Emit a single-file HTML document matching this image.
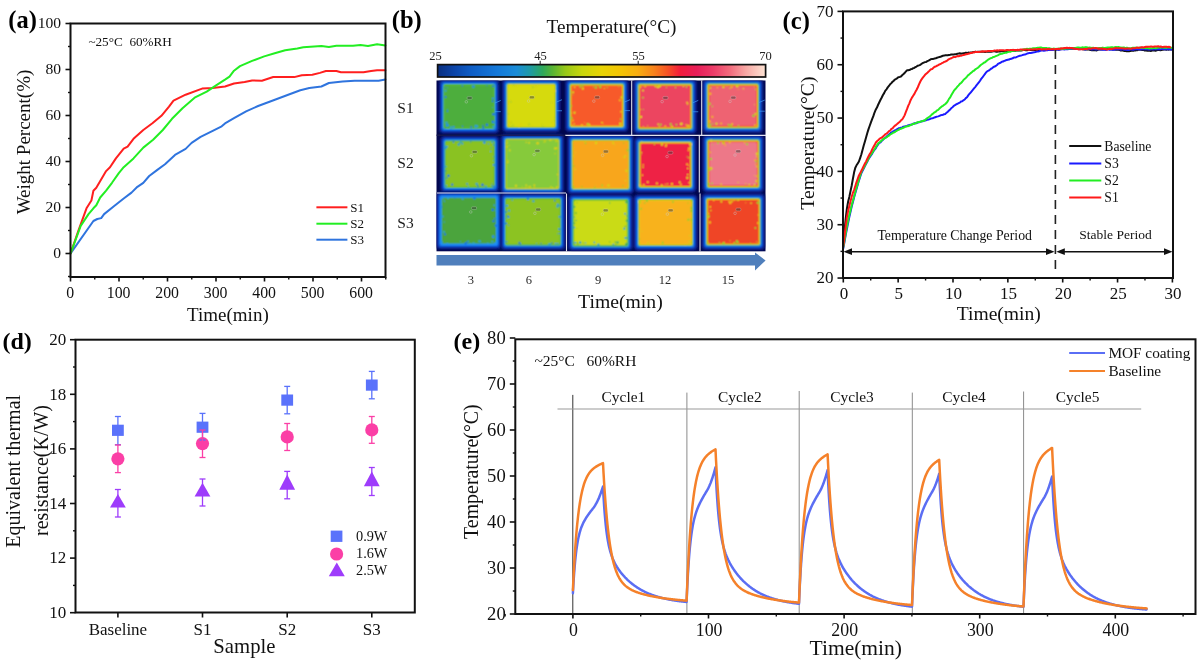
<!DOCTYPE html>
<html><head><meta charset="utf-8"><style>
html,body{margin:0;padding:0;background:#fff;}
svg{display:block;filter:blur(0.3px);}
text{font-family:"Liberation Serif", serif;}
</style></head><body>
<svg width="1200" height="664" viewBox="0 0 1200 664">
<rect width="1200" height="664" fill="#fff"/>
<path d="M70.6,253.3 L93.4,221 L97.3,219 L101.2,218.1 L104.1,214.1 L113.9,206.3 L123.7,198.5 L131.5,192.6 L137.4,186.8 L143.3,182.8 L149.2,176 L157,170.1 L165,164.2 L175,154.9 L185.6,148.9 L191.6,142.9 L200.6,136.9 L212.7,130.8 L221.7,126.3 L225,123.4 L234,118.1 L246.1,111.3 L258.1,106 L270.2,101.5 L276.2,99.3 L288.2,94.7 L300.3,90.2 L309.3,88 L321.4,86.5 L328.9,83 L342.5,81.5 L354.5,80.7 L378.6,80.7 L385.4,79.4" fill="none" stroke="#2f74de" stroke-width="2" stroke-linejoin="round" stroke-linecap="round" />
<path d="M70.6,253.3 L78.7,229.8 L86.5,208.3 L91.4,200.5 L93.4,190.7 L96.3,187.7 L106.1,171.1 L110,167.2 L115.9,158.4 L123.7,148.6 L127.6,146.6 L133.5,138.8 L143.3,130 L152.4,123.3 L161.4,115.8 L169,106.7 L173.5,100.7 L185.6,94.7 L202.1,88.6 L212.7,88 L225,86.5 L234,83.5 L244.6,82 L252.1,80.4 L261.9,80.7 L273.2,77 L294.3,77.1 L301.8,75.2 L312.3,74.7 L319.9,72.9 L325.9,71 L336.4,71 L341,72.2 L363.5,72.2 L371.1,71 L377.1,70.2 L385.4,70.2" fill="none" stroke="#ff1f1f" stroke-width="2" stroke-linejoin="round" stroke-linecap="round" />
<path d="M70.6,253.3 L80.7,225.9 L88.5,214.1 L93.4,208.3 L96.3,205.3 L100.2,197.5 L106.1,190.7 L112,182.8 L118.8,173.1 L123.7,167.2 L133.5,158.4 L143.3,147.6 L153.1,139.8 L162.8,130 L172,118.8 L182.5,108.2 L194.6,97.7 L206.7,91.6 L215.7,85.6 L225,79.7 L229.5,76.7 L234,70.7 L240,66.1 L252.1,60.9 L264.2,56.4 L274.7,53.3 L285.2,50.3 L297.3,48.4 L303.3,47.3 L321.4,46.1 L328.9,46.9 L336.4,45.8 L353,45.8 L360.5,45.1 L368,46 L377.1,44.3 L385.4,45.4" fill="none" stroke="#22ee22" stroke-width="2" stroke-linejoin="round" stroke-linecap="round" />
<rect x="70.5" y="23.5" width="315.0" height="253.5" fill="none" stroke="#111" stroke-width="2"/>
<line x1="65.5" y1="253.5" x2="70.5" y2="253.5" stroke="#111" stroke-width="1.6" />
<text x="61.1" y="258.3" font-size="15.6" text-anchor="end" font-weight="normal" fill="#111" >0</text>
<line x1="65.5" y1="207.5" x2="70.5" y2="207.5" stroke="#111" stroke-width="1.6" />
<text x="61.1" y="212.3" font-size="15.6" text-anchor="end" font-weight="normal" fill="#111" >20</text>
<line x1="65.5" y1="161.5" x2="70.5" y2="161.5" stroke="#111" stroke-width="1.6" />
<text x="61.1" y="166.3" font-size="15.6" text-anchor="end" font-weight="normal" fill="#111" >40</text>
<line x1="65.5" y1="115.5" x2="70.5" y2="115.5" stroke="#111" stroke-width="1.6" />
<text x="61.1" y="120.3" font-size="15.6" text-anchor="end" font-weight="normal" fill="#111" >60</text>
<line x1="65.5" y1="69.5" x2="70.5" y2="69.5" stroke="#111" stroke-width="1.6" />
<text x="61.1" y="74.3" font-size="15.6" text-anchor="end" font-weight="normal" fill="#111" >80</text>
<line x1="65.5" y1="23.5" x2="70.5" y2="23.5" stroke="#111" stroke-width="1.6" />
<text x="61.1" y="28.3" font-size="15.6" text-anchor="end" font-weight="normal" fill="#111" >100</text>
<line x1="68" y1="276.5" x2="70.5" y2="276.5" stroke="#111" stroke-width="1.4" />
<line x1="68" y1="230.5" x2="70.5" y2="230.5" stroke="#111" stroke-width="1.4" />
<line x1="68" y1="184.5" x2="70.5" y2="184.5" stroke="#111" stroke-width="1.4" />
<line x1="68" y1="138.5" x2="70.5" y2="138.5" stroke="#111" stroke-width="1.4" />
<line x1="68" y1="92.5" x2="70.5" y2="92.5" stroke="#111" stroke-width="1.4" />
<line x1="68" y1="46.5" x2="70.5" y2="46.5" stroke="#111" stroke-width="1.4" />
<line x1="70.5" y1="277" x2="70.5" y2="281.5" stroke="#111" stroke-width="1.6" />
<text x="70.1" y="297.6" font-size="15.8" text-anchor="middle" font-weight="normal" fill="#111" >0</text>
<line x1="119" y1="277" x2="119" y2="281.5" stroke="#111" stroke-width="1.6" />
<text x="118.6" y="297.6" font-size="15.8" text-anchor="middle" font-weight="normal" fill="#111" >100</text>
<line x1="167.5" y1="277" x2="167.5" y2="281.5" stroke="#111" stroke-width="1.6" />
<text x="167.1" y="297.6" font-size="15.8" text-anchor="middle" font-weight="normal" fill="#111" >200</text>
<line x1="216" y1="277" x2="216" y2="281.5" stroke="#111" stroke-width="1.6" />
<text x="215.6" y="297.6" font-size="15.8" text-anchor="middle" font-weight="normal" fill="#111" >300</text>
<line x1="264.5" y1="277" x2="264.5" y2="281.5" stroke="#111" stroke-width="1.6" />
<text x="264.1" y="297.6" font-size="15.8" text-anchor="middle" font-weight="normal" fill="#111" >400</text>
<line x1="313" y1="277" x2="313" y2="281.5" stroke="#111" stroke-width="1.6" />
<text x="312.6" y="297.6" font-size="15.8" text-anchor="middle" font-weight="normal" fill="#111" >500</text>
<line x1="361.5" y1="277" x2="361.5" y2="281.5" stroke="#111" stroke-width="1.6" />
<text x="361.1" y="297.6" font-size="15.8" text-anchor="middle" font-weight="normal" fill="#111" >600</text>
<line x1="94.75" y1="277" x2="94.75" y2="279.5" stroke="#111" stroke-width="1.4" />
<line x1="143.25" y1="277" x2="143.25" y2="279.5" stroke="#111" stroke-width="1.4" />
<line x1="191.75" y1="277" x2="191.75" y2="279.5" stroke="#111" stroke-width="1.4" />
<line x1="240.25" y1="277" x2="240.25" y2="279.5" stroke="#111" stroke-width="1.4" />
<line x1="288.75" y1="277" x2="288.75" y2="279.5" stroke="#111" stroke-width="1.4" />
<line x1="337.25" y1="277" x2="337.25" y2="279.5" stroke="#111" stroke-width="1.4" />
<line x1="385.75" y1="277" x2="385.75" y2="279.5" stroke="#111" stroke-width="1.4" />
<text x="227.9" y="320.8" font-size="19" text-anchor="middle" font-weight="normal" fill="#111" >Time(min)</text>
<text transform="translate(30.3,142) rotate(-90)" font-size="19" text-anchor="middle" fill="#111">Weight Percent(%)</text>
<text x="88.4" y="45.8" font-size="13.2" text-anchor="start" font-weight="normal" fill="#111" >~25°C&#160;&#160;60%RH</text>
<text x="8.3" y="28.3" font-size="24.5" text-anchor="start" font-weight="bold" fill="#000" >(a)</text>
<line x1="316.4" y1="207.3" x2="347.4" y2="207.3" stroke="#ff1f1f" stroke-width="2" />
<text x="350.2" y="211.7" font-size="13" text-anchor="start" font-weight="normal" fill="#111" >S1</text>
<line x1="316.4" y1="223.7" x2="347.4" y2="223.7" stroke="#22ee22" stroke-width="2" />
<text x="350.2" y="228.1" font-size="13" text-anchor="start" font-weight="normal" fill="#111" >S2</text>
<line x1="316.4" y1="239.7" x2="347.4" y2="239.7" stroke="#2f74de" stroke-width="2" />
<text x="350.2" y="244.1" font-size="13" text-anchor="start" font-weight="normal" fill="#111" >S3</text>
<text x="391.8" y="28.3" font-size="24.5" text-anchor="start" font-weight="bold" fill="#000" >(b)</text>
<text x="611.5" y="32.5" font-size="19.2" text-anchor="middle" font-weight="normal" fill="#111" >Temperature(°C)</text>
<defs><linearGradient id="cbar" x1="0" x2="1" y1="0" y2="0"><stop offset="0" stop-color="#0a2f80"/><stop offset="0.05" stop-color="#0c44a8"/><stop offset="0.1" stop-color="#0e5cc4"/><stop offset="0.18" stop-color="#1478d8"/><stop offset="0.24" stop-color="#1a8cd8"/><stop offset="0.28" stop-color="#1e9aa8"/><stop offset="0.32" stop-color="#2ea85c"/><stop offset="0.35" stop-color="#58b434"/><stop offset="0.39" stop-color="#98c818"/><stop offset="0.44" stop-color="#c8d60c"/><stop offset="0.5" stop-color="#e8d404"/><stop offset="0.56" stop-color="#f4c404"/><stop offset="0.61" stop-color="#f8ae10"/><stop offset="0.66" stop-color="#f8821c"/><stop offset="0.7" stop-color="#f65424"/><stop offset="0.74" stop-color="#f21c3c"/><stop offset="0.79" stop-color="#e81e58"/><stop offset="0.84" stop-color="#ec3c68"/><stop offset="0.89" stop-color="#f26a7c"/><stop offset="0.94" stop-color="#f8a8a4"/><stop offset="1" stop-color="#fde4d4"/></linearGradient><filter id="bl1" x="-5%" y="-5%" width="110%" height="110%"><feConvolveMatrix order="3" kernelMatrix="1 2 1 2 4 2 1 2 1" edgeMode="duplicate"/></filter><filter id="bl0" x="-10%" y="-10%" width="120%" height="120%"><feGaussianBlur stdDeviation="0.45"/></filter><filter id="blt" x="-10%" y="-30%" width="120%" height="160%"><feGaussianBlur stdDeviation="0.35"/></filter></defs>
<rect x="437.6" y="64.6" width="328" height="12.4" fill="url(#cbar)" stroke="#111" stroke-width="1.7"/>
<g filter="url(#blt)">
<text x="435.6" y="59.8" font-size="12.5" text-anchor="middle" font-weight="normal" fill="#222" >25</text>
<text x="540.4" y="59.8" font-size="12.5" text-anchor="middle" font-weight="normal" fill="#222" >45</text>
<text x="638.6" y="59.8" font-size="12.5" text-anchor="middle" font-weight="normal" fill="#222" >55</text>
<text x="765.4" y="59.8" font-size="12.5" text-anchor="middle" font-weight="normal" fill="#222" >70</text>
</g>
<line x1="540.2" y1="60.8" x2="540.2" y2="64.6" stroke="#222" stroke-width="1" />
<line x1="638.2" y1="60.8" x2="638.2" y2="64.6" stroke="#222" stroke-width="1" />
<rect x="436.5" y="80.5" width="329" height="170.8" fill="#02074e"/>
<clipPath id="irclip"><rect x="436.5" y="80.5" width="329" height="170.8"/></clipPath>
<g clip-path="url(#irclip)"><g filter="url(#bl1)">
<rect x="438.4" y="79" width="61.4" height="55" rx="4.5" fill="#071672"/>
<rect x="440" y="80.6" width="58.2" height="51.8" rx="3.7" fill="#0a2ea6"/>
<rect x="441.2" y="81.8" width="55.8" height="49.4" rx="3.1" fill="#0d4fcc"/>
<rect x="442.1" y="82.7" width="54" height="47.6" rx="2.65" fill="#1672ea"/>
<rect x="442.9" y="83.5" width="52.4" height="46" rx="2.25" fill="#1c8ef6"/>
<rect x="443.4" y="84" width="51.4" height="45" rx="2" fill="#5cbc3c"/>
<rect x="444.6" y="85.2" width="49" height="42.6" rx="1.5" fill="#4dae3c"/>
<circle cx="471.28" cy="127.15" r="0.98" fill="#1672ea"/>
<circle cx="447.35" cy="111.04" r="0.88" fill="#1672ea"/>
<circle cx="493.58" cy="126.84" r="1.17" fill="#2aa0d0"/>
<circle cx="486.93" cy="85.51" r="0.62" fill="#1672ea"/>
<circle cx="445.15" cy="87.34" r="0.63" fill="#1672ea"/>
<circle cx="482.94" cy="125.45" r="0.72" fill="#1672ea"/>
<circle cx="446.47" cy="122.79" r="1.24" fill="#2aa0d0"/>
<circle cx="447.62" cy="109.81" r="0.61" fill="#2aa0d0"/>
<circle cx="451.12" cy="127.52" r="1.27" fill="#2aa0d0"/>
<circle cx="492.8" cy="121.77" r="1.17" fill="#1672ea"/>
<circle cx="473.3" cy="86.55" r="1.22" fill="#1672ea"/>
<circle cx="493.18" cy="86.23" r="0.98" fill="#1672ea"/>
<circle cx="486.92" cy="124.78" r="1.22" fill="#1672ea"/>
<circle cx="476.78" cy="126.26" r="1.29" fill="#2aa0d0"/>
<circle cx="447.53" cy="125.31" r="1.29" fill="#1c8ef6"/>
<circle cx="447.69" cy="87.89" r="0.52" fill="#2aa0d0"/>
<circle cx="493.58" cy="122.53" r="0.99" fill="#1c8ef6"/>
<circle cx="473.37" cy="86.43" r="1.24" fill="#2aa0d0"/>
<circle cx="445.09" cy="127.94" r="0.56" fill="#1672ea"/>
<circle cx="447.65" cy="125.8" r="0.73" fill="#2aa0d0"/>
<circle cx="446.5" cy="125.25" r="0.75" fill="#1c8ef6"/>
<circle cx="492.67" cy="101.24" r="0.92" fill="#1672ea"/>
<circle cx="493.52" cy="114.28" r="1.28" fill="#1672ea"/>
<circle cx="475.73" cy="125.93" r="1.25" fill="#2aa0d0"/>
<circle cx="492.38" cy="107.41" r="0.51" fill="#2aa0d0"/>
<circle cx="492.93" cy="98.54" r="0.97" fill="#1c8ef6"/>
<circle cx="475.39" cy="126.86" r="1.04" fill="#2aa0d0"/>
<circle cx="445.62" cy="96.99" r="0.97" fill="#1672ea"/>
<circle cx="462.64" cy="126.28" r="0.74" fill="#1672ea"/>
<circle cx="462.38" cy="85.7" r="0.8" fill="#1672ea"/>
<circle cx="483.29" cy="127.71" r="1.15" fill="#1672ea"/>
<circle cx="445.66" cy="90.65" r="1.02" fill="#2aa0d0"/>
<circle cx="453.66" cy="126.95" r="1.06" fill="#1c8ef6"/>
<circle cx="446.31" cy="125.81" r="0.68" fill="#1c8ef6"/>
<rect x="501.5" y="78.4" width="59.5" height="54.5" rx="4.5" fill="#071672"/>
<rect x="503.1" y="80" width="56.3" height="51.3" rx="3.7" fill="#0a2ea6"/>
<rect x="504.3" y="81.2" width="53.9" height="48.9" rx="3.1" fill="#0d4fcc"/>
<rect x="505.2" y="82.1" width="52.1" height="47.1" rx="2.65" fill="#1672ea"/>
<rect x="506" y="82.9" width="50.5" height="45.5" rx="2.25" fill="#1c8ef6"/>
<rect x="506.5" y="83.4" width="49.5" height="44.5" rx="2" fill="#5cbc3c"/>
<rect x="507.2" y="84.1" width="48.1" height="43.1" rx="1.65" fill="#d6d012"/>
<rect x="508" y="84.9" width="46.5" height="41.5" rx="1.5" fill="#d6da0a"/>
<circle cx="542.75" cy="126.12" r="0.95" fill="#b8d020"/>
<circle cx="513.24" cy="125.24" r="0.65" fill="#e0d010"/>
<circle cx="520.73" cy="124.13" r="1.01" fill="#e0d010"/>
<circle cx="513.66" cy="85.35" r="1.14" fill="#b8d020"/>
<circle cx="537.62" cy="85.34" r="0.95" fill="#d0d418"/>
<circle cx="554.5" cy="91.03" r="1.25" fill="#e0d010"/>
<circle cx="551.55" cy="102.86" r="1.24" fill="#d0d418"/>
<circle cx="529.19" cy="124.37" r="1.1" fill="#b8d020"/>
<circle cx="510.52" cy="122.21" r="1.19" fill="#b8d020"/>
<circle cx="519.12" cy="126.38" r="1.14" fill="#e0d010"/>
<circle cx="551.8" cy="122.5" r="0.96" fill="#d0d418"/>
<circle cx="513.24" cy="85.97" r="0.69" fill="#d0d418"/>
<circle cx="510.89" cy="101.98" r="0.99" fill="#b8d020"/>
<circle cx="553.67" cy="125.2" r="1.15" fill="#d0d418"/>
<circle cx="516.87" cy="86.08" r="1.15" fill="#d0d418"/>
<circle cx="520.5" cy="123.75" r="0.6" fill="#d0d418"/>
<circle cx="534.62" cy="85.64" r="1.11" fill="#d0d418"/>
<circle cx="532.55" cy="125.59" r="0.88" fill="#d0d418"/>
<circle cx="554.48" cy="117.35" r="0.54" fill="#b8d020"/>
<circle cx="554.44" cy="120.71" r="0.9" fill="#b8d020"/>
<circle cx="510.91" cy="125.7" r="0.81" fill="#b8d020"/>
<circle cx="516.58" cy="85.44" r="0.6" fill="#e0d010"/>
<circle cx="541.84" cy="124.18" r="0.95" fill="#d0d418"/>
<circle cx="536.21" cy="87.06" r="0.8" fill="#d0d418"/>
<circle cx="508.66" cy="102.74" r="0.9" fill="#e0d010"/>
<circle cx="552.64" cy="85.69" r="0.51" fill="#d0d418"/>
<circle cx="508.05" cy="113.94" r="0.84" fill="#b8d020"/>
<circle cx="508.83" cy="125.87" r="1.28" fill="#e0d010"/>
<circle cx="553.56" cy="95.54" r="0.6" fill="#e0d010"/>
<circle cx="510.21" cy="122.11" r="1.03" fill="#e0d010"/>
<circle cx="532.77" cy="87.19" r="1.07" fill="#b8d020"/>
<circle cx="544.28" cy="126.38" r="0.57" fill="#d0d418"/>
<circle cx="510.33" cy="100.37" r="0.77" fill="#d0d418"/>
<circle cx="512.97" cy="125.4" r="1.06" fill="#b8d020"/>
<rect x="564.5" y="78.6" width="64.5" height="54" rx="4.5" fill="#071672"/>
<rect x="566.1" y="80.2" width="61.3" height="50.8" rx="3.7" fill="#0a2ea6"/>
<rect x="567.3" y="81.4" width="58.9" height="48.4" rx="3.1" fill="#0d4fcc"/>
<rect x="568.2" y="82.3" width="57.1" height="46.6" rx="2.65" fill="#1672ea"/>
<rect x="569" y="83.1" width="55.5" height="45" rx="2.25" fill="#1c8ef6"/>
<rect x="569.5" y="83.6" width="54.5" height="44" rx="2" fill="#5cbc3c"/>
<rect x="570.2" y="84.3" width="53.1" height="42.6" rx="1.65" fill="#d6d012"/>
<rect x="571" y="85.1" width="51.5" height="41" rx="1.25" fill="#f8a41a"/>
<rect x="571.6" y="85.7" width="50.3" height="39.8" rx="1.5" fill="#f75a2a"/>
<circle cx="571.62" cy="118.15" r="1.11" fill="#9ccc2a"/>
<circle cx="572.85" cy="94.61" r="0.58" fill="#9ccc2a"/>
<circle cx="587.52" cy="124.22" r="1.16" fill="#d8d414"/>
<circle cx="620.99" cy="111.73" r="1.06" fill="#f0b418"/>
<circle cx="601.97" cy="122.61" r="0.95" fill="#d8d414"/>
<circle cx="582.85" cy="88.55" r="1.17" fill="#d8d414"/>
<circle cx="600.34" cy="87.04" r="1.24" fill="#9ccc2a"/>
<circle cx="604.26" cy="88.39" r="0.62" fill="#d8d414"/>
<circle cx="595.88" cy="87.5" r="1.26" fill="#9ccc2a"/>
<circle cx="571.99" cy="92.42" r="0.66" fill="#9ccc2a"/>
<circle cx="574.07" cy="123.86" r="0.93" fill="#f0b418"/>
<circle cx="573" cy="120.52" r="0.97" fill="#f0b418"/>
<circle cx="621.51" cy="97.5" r="1.14" fill="#d8d414"/>
<circle cx="589.42" cy="124.98" r="1.12" fill="#d8d414"/>
<circle cx="607.12" cy="87.51" r="0.66" fill="#9ccc2a"/>
<circle cx="620.64" cy="119.11" r="0.89" fill="#9ccc2a"/>
<circle cx="620.25" cy="123.34" r="1.21" fill="#d8d414"/>
<circle cx="582.55" cy="86.01" r="1.07" fill="#9ccc2a"/>
<circle cx="581.91" cy="125.14" r="1.21" fill="#f0b418"/>
<circle cx="603.15" cy="123.79" r="0.53" fill="#f0b418"/>
<circle cx="572.86" cy="125.29" r="0.57" fill="#d8d414"/>
<circle cx="584.37" cy="122.73" r="0.53" fill="#f0b418"/>
<circle cx="571.6" cy="112.97" r="0.77" fill="#f0b418"/>
<circle cx="574.59" cy="87.28" r="1.09" fill="#f0b418"/>
<circle cx="599.08" cy="85.81" r="0.72" fill="#9ccc2a"/>
<circle cx="593.52" cy="86.85" r="0.7" fill="#9ccc2a"/>
<circle cx="619.78" cy="100.32" r="1.11" fill="#f0b418"/>
<circle cx="574.52" cy="112.74" r="1.15" fill="#d8d414"/>
<circle cx="620.2" cy="124.98" r="0.93" fill="#d8d414"/>
<circle cx="571.64" cy="105.96" r="0.74" fill="#9ccc2a"/>
<circle cx="573.19" cy="92.24" r="1" fill="#d8d414"/>
<circle cx="618.8" cy="86.61" r="0.59" fill="#9ccc2a"/>
<circle cx="587.91" cy="123.61" r="0.98" fill="#9ccc2a"/>
<circle cx="580.31" cy="86.7" r="1.13" fill="#9ccc2a"/>
<rect x="632.8" y="78.6" width="64.5" height="55.8" rx="4.5" fill="#071672"/>
<rect x="634.4" y="80.2" width="61.3" height="52.6" rx="3.7" fill="#0a2ea6"/>
<rect x="635.6" y="81.4" width="58.9" height="50.2" rx="3.1" fill="#0d4fcc"/>
<rect x="636.5" y="82.3" width="57.1" height="48.4" rx="2.65" fill="#1672ea"/>
<rect x="637.3" y="83.1" width="55.5" height="46.8" rx="2.25" fill="#1c8ef6"/>
<rect x="637.8" y="83.6" width="54.5" height="45.8" rx="2" fill="#5cbc3c"/>
<rect x="638.5" y="84.3" width="53.1" height="44.4" rx="1.65" fill="#d6d012"/>
<rect x="639.3" y="85.1" width="51.5" height="42.8" rx="1.25" fill="#f8a41a"/>
<rect x="639.9" y="85.7" width="50.3" height="41.6" rx="1" fill="#f23a3a"/>
<rect x="640.5" y="86.3" width="49.1" height="40.4" rx="1.5" fill="#ec4460"/>
<circle cx="676.38" cy="124.66" r="0.93" fill="#9ccc2a"/>
<circle cx="644.04" cy="86.7" r="0.54" fill="#d8d414"/>
<circle cx="665.3" cy="126.36" r="1.12" fill="#f0b418"/>
<circle cx="688.71" cy="125.99" r="1.15" fill="#d8d414"/>
<circle cx="683.26" cy="86.4" r="0.72" fill="#d8d414"/>
<circle cx="643.25" cy="109.32" r="0.59" fill="#9ccc2a"/>
<circle cx="660.67" cy="124.71" r="1.15" fill="#9ccc2a"/>
<circle cx="670.71" cy="124.19" r="1.14" fill="#9ccc2a"/>
<circle cx="640.75" cy="109.49" r="0.7" fill="#f0b418"/>
<circle cx="680.97" cy="124.04" r="1.26" fill="#f0b418"/>
<circle cx="686.37" cy="86.79" r="0.9" fill="#9ccc2a"/>
<circle cx="643.01" cy="97.71" r="0.89" fill="#9ccc2a"/>
<circle cx="672.09" cy="126.61" r="1.1" fill="#d8d414"/>
<circle cx="666.29" cy="87.23" r="0.65" fill="#9ccc2a"/>
<circle cx="681.47" cy="123.87" r="1.26" fill="#d8d414"/>
<circle cx="643.17" cy="126.61" r="0.61" fill="#d8d414"/>
<circle cx="641.12" cy="86.82" r="0.69" fill="#d8d414"/>
<circle cx="639.79" cy="86.87" r="0.76" fill="#f0b418"/>
<circle cx="643.01" cy="90.48" r="0.98" fill="#d8d414"/>
<circle cx="641.08" cy="117" r="1.15" fill="#d8d414"/>
<circle cx="687.55" cy="103.74" r="0.89" fill="#d8d414"/>
<circle cx="687.15" cy="102.49" r="1.06" fill="#f0b418"/>
<circle cx="675.51" cy="87.48" r="0.84" fill="#9ccc2a"/>
<circle cx="640.03" cy="87.22" r="1.05" fill="#f0b418"/>
<circle cx="686.02" cy="124.81" r="0.79" fill="#f0b418"/>
<circle cx="657.78" cy="87.04" r="1.28" fill="#d8d414"/>
<circle cx="658.21" cy="124.21" r="0.93" fill="#d8d414"/>
<circle cx="647.77" cy="125.95" r="0.63" fill="#d8d414"/>
<circle cx="670.76" cy="125.83" r="0.65" fill="#d8d414"/>
<circle cx="655.49" cy="86.31" r="1.07" fill="#d8d414"/>
<circle cx="659.62" cy="86.31" r="1.27" fill="#d8d414"/>
<circle cx="659.23" cy="126.47" r="0.77" fill="#d8d414"/>
<circle cx="645.31" cy="86.33" r="1.08" fill="#f0b418"/>
<circle cx="687.41" cy="125.86" r="1.27" fill="#f0b418"/>
<rect x="701.9" y="78.6" width="61.9" height="54.9" rx="4.5" fill="#071672"/>
<rect x="703.5" y="80.2" width="58.7" height="51.7" rx="3.7" fill="#0a2ea6"/>
<rect x="704.7" y="81.4" width="56.3" height="49.3" rx="3.1" fill="#0d4fcc"/>
<rect x="705.6" y="82.3" width="54.5" height="47.5" rx="2.65" fill="#1672ea"/>
<rect x="706.4" y="83.1" width="52.9" height="45.9" rx="2.25" fill="#1c8ef6"/>
<rect x="706.9" y="83.6" width="51.9" height="44.9" rx="2" fill="#5cbc3c"/>
<rect x="707.6" y="84.3" width="50.5" height="43.5" rx="1.65" fill="#d6d012"/>
<rect x="708.4" y="85.1" width="48.9" height="41.9" rx="1.25" fill="#f8a41a"/>
<rect x="709" y="85.7" width="47.7" height="40.7" rx="1" fill="#f23a3a"/>
<rect x="709.6" y="86.3" width="46.5" height="39.5" rx="1.5" fill="#ee6472"/>
<circle cx="721.16" cy="123.49" r="1" fill="#f0b418"/>
<circle cx="710.73" cy="87.15" r="0.57" fill="#9ccc2a"/>
<circle cx="709.41" cy="125.73" r="0.64" fill="#d8d414"/>
<circle cx="717.34" cy="87.39" r="0.76" fill="#f0b418"/>
<circle cx="731.78" cy="86.9" r="1.03" fill="#f0b418"/>
<circle cx="738.19" cy="89.23" r="0.57" fill="#f0b418"/>
<circle cx="728.51" cy="124.72" r="0.94" fill="#9ccc2a"/>
<circle cx="709.8" cy="124.43" r="1.09" fill="#9ccc2a"/>
<circle cx="754.69" cy="86.92" r="0.65" fill="#f0b418"/>
<circle cx="730.08" cy="88.12" r="0.78" fill="#d8d414"/>
<circle cx="712.38" cy="116.89" r="1.06" fill="#f0b418"/>
<circle cx="716.47" cy="123.77" r="1.16" fill="#d8d414"/>
<circle cx="756.02" cy="113.66" r="0.69" fill="#9ccc2a"/>
<circle cx="738.45" cy="125.78" r="0.87" fill="#9ccc2a"/>
<circle cx="709.6" cy="127.37" r="0.66" fill="#d8d414"/>
<circle cx="723.44" cy="87.19" r="1.16" fill="#d8d414"/>
<circle cx="710.34" cy="125.64" r="1.02" fill="#9ccc2a"/>
<circle cx="755.66" cy="89.41" r="0.67" fill="#9ccc2a"/>
<circle cx="712.34" cy="106.26" r="0.76" fill="#9ccc2a"/>
<circle cx="754.6" cy="104.66" r="0.53" fill="#d8d414"/>
<circle cx="709.68" cy="121.45" r="1.25" fill="#f0b418"/>
<circle cx="731.12" cy="125.51" r="1.16" fill="#9ccc2a"/>
<circle cx="732.13" cy="124.12" r="1.06" fill="#f0b418"/>
<circle cx="709.69" cy="103.72" r="1.17" fill="#9ccc2a"/>
<circle cx="726.83" cy="86.4" r="0.51" fill="#f0b418"/>
<circle cx="710.19" cy="87.91" r="0.89" fill="#d8d414"/>
<circle cx="755.46" cy="114.04" r="1.13" fill="#d8d414"/>
<circle cx="710.2" cy="93.79" r="1.3" fill="#f0b418"/>
<circle cx="729.81" cy="125.45" r="0.76" fill="#9ccc2a"/>
<circle cx="753.52" cy="115.76" r="1.29" fill="#9ccc2a"/>
<circle cx="743.39" cy="88.78" r="0.79" fill="#d8d414"/>
<circle cx="755.1" cy="125.34" r="1.12" fill="#f0b418"/>
<circle cx="737.22" cy="86.31" r="1.27" fill="#d8d414"/>
<circle cx="712.68" cy="123.9" r="0.74" fill="#9ccc2a"/>
<rect x="439.7" y="135.4" width="60.2" height="57.5" rx="4.5" fill="#071672"/>
<rect x="441.3" y="137" width="57" height="54.3" rx="3.7" fill="#0a2ea6"/>
<rect x="442.5" y="138.2" width="54.6" height="51.9" rx="3.1" fill="#0d4fcc"/>
<rect x="443.4" y="139.1" width="52.8" height="50.1" rx="2.65" fill="#1672ea"/>
<rect x="444.2" y="139.9" width="51.2" height="48.5" rx="2.25" fill="#1c8ef6"/>
<rect x="444.7" y="140.4" width="50.2" height="47.5" rx="2" fill="#5cbc3c"/>
<rect x="445.9" y="141.6" width="47.8" height="45.1" rx="1.5" fill="#8ac222"/>
<circle cx="468.46" cy="186.47" r="0.67" fill="#2aa0d0"/>
<circle cx="462.32" cy="143.59" r="1.1" fill="#2aa0d0"/>
<circle cx="467.1" cy="183.96" r="0.86" fill="#1c8ef6"/>
<circle cx="482.46" cy="184.89" r="1.28" fill="#1672ea"/>
<circle cx="453.48" cy="142.1" r="0.87" fill="#1672ea"/>
<circle cx="490.72" cy="151.53" r="0.73" fill="#1c8ef6"/>
<circle cx="488.44" cy="143.87" r="0.74" fill="#1c8ef6"/>
<circle cx="493.7" cy="165.04" r="1" fill="#1c8ef6"/>
<circle cx="445.93" cy="148.94" r="0.66" fill="#2aa0d0"/>
<circle cx="492.24" cy="142.23" r="0.94" fill="#2aa0d0"/>
<circle cx="446.34" cy="185.86" r="0.77" fill="#1c8ef6"/>
<circle cx="446.79" cy="178.31" r="0.71" fill="#1672ea"/>
<circle cx="493.33" cy="160.43" r="0.54" fill="#2aa0d0"/>
<circle cx="493.71" cy="186.52" r="1.11" fill="#1672ea"/>
<circle cx="452.24" cy="184.64" r="1.13" fill="#1672ea"/>
<circle cx="493.57" cy="156.75" r="0.51" fill="#1c8ef6"/>
<circle cx="476.7" cy="184.01" r="1.22" fill="#2aa0d0"/>
<circle cx="448.41" cy="175.74" r="1.28" fill="#1672ea"/>
<circle cx="470.69" cy="141.79" r="0.65" fill="#1672ea"/>
<circle cx="485.81" cy="186.62" r="1.12" fill="#2aa0d0"/>
<circle cx="484.4" cy="142.5" r="1.27" fill="#1c8ef6"/>
<circle cx="445.92" cy="147.75" r="0.89" fill="#1c8ef6"/>
<circle cx="492.24" cy="183.78" r="0.52" fill="#1672ea"/>
<circle cx="446.02" cy="146.68" r="1.13" fill="#2aa0d0"/>
<circle cx="477.93" cy="186.04" r="0.91" fill="#1672ea"/>
<circle cx="460.71" cy="142.19" r="1.02" fill="#2aa0d0"/>
<circle cx="458.76" cy="144.55" r="1.26" fill="#2aa0d0"/>
<circle cx="445.92" cy="166.66" r="0.83" fill="#2aa0d0"/>
<circle cx="493.4" cy="145.01" r="0.66" fill="#1c8ef6"/>
<circle cx="447.44" cy="146.64" r="0.6" fill="#1c8ef6"/>
<circle cx="491.92" cy="185.73" r="0.85" fill="#2aa0d0"/>
<circle cx="459.65" cy="142.86" r="0.64" fill="#2aa0d0"/>
<circle cx="490.97" cy="147.96" r="0.64" fill="#2aa0d0"/>
<circle cx="446.04" cy="170.84" r="0.54" fill="#1672ea"/>
<rect x="500" y="133.6" width="64.6" height="61" rx="4.5" fill="#071672"/>
<rect x="501.6" y="135.2" width="61.4" height="57.8" rx="3.7" fill="#0a2ea6"/>
<rect x="502.8" y="136.4" width="59" height="55.4" rx="3.1" fill="#0d4fcc"/>
<rect x="503.7" y="137.3" width="57.2" height="53.6" rx="2.65" fill="#1672ea"/>
<rect x="504.5" y="138.1" width="55.6" height="52" rx="2.25" fill="#1c8ef6"/>
<rect x="505" y="138.6" width="54.6" height="51" rx="2" fill="#5cbc3c"/>
<rect x="505.7" y="139.3" width="53.2" height="49.6" rx="1.65" fill="#d6d012"/>
<rect x="506.5" y="140.1" width="51.6" height="48" rx="1.5" fill="#86ca3a"/>
<circle cx="515.97" cy="185.76" r="1.2" fill="#d0d418"/>
<circle cx="506.77" cy="147.05" r="1.12" fill="#b8d020"/>
<circle cx="557.94" cy="140.52" r="0.61" fill="#d0d418"/>
<circle cx="526.18" cy="185.21" r="0.98" fill="#d0d418"/>
<circle cx="525.51" cy="187.96" r="0.88" fill="#d0d418"/>
<circle cx="556.01" cy="141.11" r="1.06" fill="#b8d020"/>
<circle cx="544.89" cy="141.26" r="1.18" fill="#b8d020"/>
<circle cx="507.69" cy="162.34" r="0.85" fill="#e0d010"/>
<circle cx="526.19" cy="142.15" r="0.74" fill="#e0d010"/>
<circle cx="555.09" cy="148.39" r="1.17" fill="#d0d418"/>
<circle cx="550.18" cy="140.22" r="0.98" fill="#d0d418"/>
<circle cx="551.9" cy="140.2" r="0.51" fill="#d0d418"/>
<circle cx="556.35" cy="188.19" r="0.92" fill="#b8d020"/>
<circle cx="534.42" cy="187.24" r="0.62" fill="#e0d010"/>
<circle cx="530" cy="186.82" r="1.01" fill="#e0d010"/>
<circle cx="537.61" cy="143.2" r="1.25" fill="#e0d010"/>
<circle cx="555.02" cy="153.65" r="0.72" fill="#d0d418"/>
<circle cx="509.68" cy="150.44" r="1.08" fill="#d0d418"/>
<circle cx="556.86" cy="187.2" r="0.88" fill="#e0d010"/>
<circle cx="556.61" cy="148.22" r="0.92" fill="#e0d010"/>
<circle cx="527.96" cy="186.87" r="0.99" fill="#b8d020"/>
<circle cx="550.95" cy="187.41" r="1.29" fill="#b8d020"/>
<circle cx="507.54" cy="142.31" r="0.59" fill="#e0d010"/>
<circle cx="557.47" cy="174.46" r="0.74" fill="#e0d010"/>
<circle cx="529.1" cy="142.84" r="1.05" fill="#d0d418"/>
<circle cx="506.78" cy="146.76" r="0.8" fill="#e0d010"/>
<circle cx="552.56" cy="187.84" r="0.85" fill="#d0d418"/>
<circle cx="534.34" cy="185.29" r="0.93" fill="#e0d010"/>
<circle cx="543.93" cy="142.34" r="0.67" fill="#b8d020"/>
<circle cx="509.11" cy="145.52" r="0.8" fill="#b8d020"/>
<circle cx="522.13" cy="186.86" r="0.59" fill="#d0d418"/>
<circle cx="506.51" cy="143.76" r="0.78" fill="#d0d418"/>
<circle cx="557.85" cy="141.06" r="0.61" fill="#d0d418"/>
<circle cx="508.02" cy="160.79" r="1.03" fill="#b8d020"/>
<rect x="566.6" y="134.5" width="68" height="60.1" rx="4.5" fill="#071672"/>
<rect x="568.2" y="136.1" width="64.8" height="56.9" rx="3.7" fill="#0a2ea6"/>
<rect x="569.4" y="137.3" width="62.4" height="54.5" rx="3.1" fill="#0d4fcc"/>
<rect x="570.3" y="138.2" width="60.6" height="52.7" rx="2.65" fill="#1672ea"/>
<rect x="571.1" y="139" width="59" height="51.1" rx="2.25" fill="#1c8ef6"/>
<rect x="571.6" y="139.5" width="58" height="50.1" rx="2" fill="#5cbc3c"/>
<rect x="572.3" y="140.2" width="56.6" height="48.7" rx="1.65" fill="#d6d012"/>
<rect x="573.1" y="141" width="55" height="47.1" rx="1.25" fill="#f8a41a"/>
<rect x="573.7" y="141.6" width="53.8" height="45.9" rx="1.5" fill="#f8a61c"/>
<circle cx="608.46" cy="185.5" r="1.2" fill="#d8d414"/>
<circle cx="614.8" cy="144.76" r="0.55" fill="#d8d414"/>
<circle cx="623.71" cy="143.13" r="0.58" fill="#9ccc2a"/>
<circle cx="596.05" cy="142.95" r="1.21" fill="#d8d414"/>
<circle cx="573.73" cy="186.58" r="0.91" fill="#9ccc2a"/>
<circle cx="573.76" cy="168.1" r="0.69" fill="#f0b418"/>
<circle cx="626.77" cy="184.67" r="0.78" fill="#f0b418"/>
<circle cx="573.95" cy="165.92" r="0.74" fill="#9ccc2a"/>
<circle cx="602.37" cy="186.01" r="0.78" fill="#9ccc2a"/>
<circle cx="627.25" cy="176" r="0.55" fill="#f0b418"/>
<circle cx="626.47" cy="170.79" r="1.18" fill="#d8d414"/>
<circle cx="627.39" cy="185.6" r="1.23" fill="#f0b418"/>
<circle cx="625.46" cy="155.67" r="0.76" fill="#d8d414"/>
<circle cx="620.28" cy="143.99" r="0.55" fill="#f0b418"/>
<circle cx="585.11" cy="142.03" r="0.78" fill="#d8d414"/>
<circle cx="573.8" cy="156.86" r="0.68" fill="#f0b418"/>
<circle cx="582.02" cy="186.5" r="0.67" fill="#9ccc2a"/>
<circle cx="585.61" cy="143.34" r="0.92" fill="#9ccc2a"/>
<circle cx="575.22" cy="169.25" r="0.85" fill="#d8d414"/>
<circle cx="602.63" cy="186.59" r="0.51" fill="#d8d414"/>
<circle cx="622.93" cy="185.75" r="0.68" fill="#9ccc2a"/>
<circle cx="624.32" cy="157.14" r="0.89" fill="#d8d414"/>
<circle cx="596.07" cy="184.97" r="0.62" fill="#f0b418"/>
<circle cx="602.17" cy="185.03" r="0.88" fill="#9ccc2a"/>
<circle cx="624.23" cy="186.83" r="0.53" fill="#f0b418"/>
<circle cx="627.43" cy="150.27" r="1.11" fill="#9ccc2a"/>
<circle cx="575.42" cy="168.6" r="0.73" fill="#f0b418"/>
<circle cx="625.49" cy="180.71" r="0.73" fill="#d8d414"/>
<circle cx="603.88" cy="143.68" r="0.84" fill="#f0b418"/>
<circle cx="575.5" cy="152.52" r="0.95" fill="#f0b418"/>
<circle cx="573.87" cy="156.09" r="1.23" fill="#f0b418"/>
<circle cx="594.69" cy="187.26" r="0.83" fill="#9ccc2a"/>
<circle cx="613.14" cy="143.04" r="1.06" fill="#d8d414"/>
<circle cx="573.78" cy="148.54" r="0.93" fill="#f0b418"/>
<rect x="633.6" y="136.4" width="63.4" height="56.6" rx="4.5" fill="#071672"/>
<rect x="635.2" y="138" width="60.2" height="53.4" rx="3.7" fill="#0a2ea6"/>
<rect x="636.4" y="139.2" width="57.8" height="51" rx="3.1" fill="#0d4fcc"/>
<rect x="637.3" y="140.1" width="56" height="49.2" rx="2.65" fill="#1672ea"/>
<rect x="638.1" y="140.9" width="54.4" height="47.6" rx="2.25" fill="#1c8ef6"/>
<rect x="638.6" y="141.4" width="53.4" height="46.6" rx="2" fill="#5cbc3c"/>
<rect x="639.3" y="142.1" width="52" height="45.2" rx="1.65" fill="#d6d012"/>
<rect x="640.1" y="142.9" width="50.4" height="43.6" rx="1.25" fill="#f8a41a"/>
<rect x="640.7" y="143.5" width="49.2" height="42.4" rx="1" fill="#f23a3a"/>
<rect x="641.3" y="144.1" width="48" height="41.2" rx="1.5" fill="#ee2444"/>
<circle cx="688.57" cy="165.39" r="0.55" fill="#f0b418"/>
<circle cx="641.67" cy="152.68" r="0.67" fill="#d8d414"/>
<circle cx="661.91" cy="144.48" r="1.27" fill="#d8d414"/>
<circle cx="679.7" cy="182.37" r="1.03" fill="#d8d414"/>
<circle cx="687.35" cy="177.67" r="1.22" fill="#d8d414"/>
<circle cx="689.24" cy="148.44" r="1.29" fill="#f0b418"/>
<circle cx="687.23" cy="156.97" r="0.63" fill="#9ccc2a"/>
<circle cx="690.76" cy="144.23" r="1.22" fill="#f0b418"/>
<circle cx="643.06" cy="164.89" r="0.84" fill="#f0b418"/>
<circle cx="667.57" cy="183.94" r="0.81" fill="#d8d414"/>
<circle cx="661.77" cy="185.3" r="1.13" fill="#d8d414"/>
<circle cx="643.76" cy="184.91" r="1.08" fill="#f0b418"/>
<circle cx="671.89" cy="184.02" r="1.27" fill="#f0b418"/>
<circle cx="647.74" cy="182.2" r="1.09" fill="#f0b418"/>
<circle cx="654.44" cy="144.2" r="0.77" fill="#9ccc2a"/>
<circle cx="641.36" cy="153.96" r="0.56" fill="#9ccc2a"/>
<circle cx="639.96" cy="185.24" r="1.13" fill="#f0b418"/>
<circle cx="642.96" cy="167.06" r="0.85" fill="#d8d414"/>
<circle cx="641.72" cy="142.49" r="1.06" fill="#d8d414"/>
<circle cx="656.9" cy="183.38" r="1.17" fill="#f0b418"/>
<circle cx="680.83" cy="184.6" r="1.14" fill="#f0b418"/>
<circle cx="687.78" cy="174.57" r="0.85" fill="#d8d414"/>
<circle cx="689" cy="157.8" r="0.83" fill="#d8d414"/>
<circle cx="690.03" cy="144.2" r="1.03" fill="#d8d414"/>
<circle cx="640.87" cy="185.29" r="0.77" fill="#d8d414"/>
<circle cx="665.84" cy="145.67" r="1.29" fill="#f0b418"/>
<circle cx="642.43" cy="175.2" r="0.84" fill="#f0b418"/>
<circle cx="688.4" cy="150.33" r="0.92" fill="#f0b418"/>
<circle cx="687.8" cy="168.36" r="0.85" fill="#d8d414"/>
<circle cx="666.43" cy="144.4" r="0.92" fill="#f0b418"/>
<circle cx="665.27" cy="184.31" r="0.7" fill="#f0b418"/>
<circle cx="640.78" cy="183.8" r="0.55" fill="#9ccc2a"/>
<circle cx="689.28" cy="182.79" r="1.04" fill="#f0b418"/>
<circle cx="687.16" cy="164.32" r="1.14" fill="#f0b418"/>
<rect x="701.9" y="134.6" width="62.7" height="58.4" rx="4.5" fill="#071672"/>
<rect x="703.5" y="136.2" width="59.5" height="55.2" rx="3.7" fill="#0a2ea6"/>
<rect x="704.7" y="137.4" width="57.1" height="52.8" rx="3.1" fill="#0d4fcc"/>
<rect x="705.6" y="138.3" width="55.3" height="51" rx="2.65" fill="#1672ea"/>
<rect x="706.4" y="139.1" width="53.7" height="49.4" rx="2.25" fill="#1c8ef6"/>
<rect x="706.9" y="139.6" width="52.7" height="48.4" rx="2" fill="#5cbc3c"/>
<rect x="707.6" y="140.3" width="51.3" height="47" rx="1.65" fill="#d6d012"/>
<rect x="708.4" y="141.1" width="49.7" height="45.4" rx="1.25" fill="#f8a41a"/>
<rect x="709" y="141.7" width="48.5" height="44.2" rx="1" fill="#f23a3a"/>
<rect x="709.6" y="142.3" width="47.3" height="43" rx="1.5" fill="#ed7888"/>
<circle cx="712.62" cy="144.71" r="0.54" fill="#9ccc2a"/>
<circle cx="712.13" cy="183.3" r="0.92" fill="#9ccc2a"/>
<circle cx="709.66" cy="169.86" r="1.04" fill="#9ccc2a"/>
<circle cx="755.86" cy="164.31" r="0.79" fill="#f0b418"/>
<circle cx="755.05" cy="160.17" r="0.95" fill="#f0b418"/>
<circle cx="725.31" cy="145.19" r="0.76" fill="#f0b418"/>
<circle cx="710.57" cy="152.58" r="0.71" fill="#f0b418"/>
<circle cx="721.17" cy="184.31" r="0.84" fill="#d8d414"/>
<circle cx="711.26" cy="168.44" r="1.3" fill="#d8d414"/>
<circle cx="709.81" cy="151.8" r="0.58" fill="#d8d414"/>
<circle cx="756.07" cy="161.58" r="0.84" fill="#9ccc2a"/>
<circle cx="729.76" cy="142.32" r="1.09" fill="#f0b418"/>
<circle cx="744.68" cy="142.7" r="0.68" fill="#d8d414"/>
<circle cx="756.89" cy="176.13" r="0.83" fill="#d8d414"/>
<circle cx="710.58" cy="159.21" r="0.9" fill="#9ccc2a"/>
<circle cx="718.04" cy="143.02" r="1.02" fill="#9ccc2a"/>
<circle cx="709.01" cy="184.01" r="1.05" fill="#9ccc2a"/>
<circle cx="749.3" cy="184.57" r="0.91" fill="#d8d414"/>
<circle cx="738.05" cy="182.37" r="0.73" fill="#d8d414"/>
<circle cx="756.75" cy="160.79" r="0.67" fill="#9ccc2a"/>
<circle cx="723.9" cy="143.17" r="1.24" fill="#f0b418"/>
<circle cx="710.18" cy="168.01" r="0.94" fill="#d8d414"/>
<circle cx="756.84" cy="153.68" r="1.21" fill="#d8d414"/>
<circle cx="756.35" cy="181.06" r="1.09" fill="#d8d414"/>
<circle cx="723.27" cy="142.58" r="0.93" fill="#9ccc2a"/>
<circle cx="711.18" cy="140.68" r="1.15" fill="#d8d414"/>
<circle cx="754.57" cy="175.54" r="0.56" fill="#f0b418"/>
<circle cx="722.64" cy="142.88" r="0.67" fill="#d8d414"/>
<circle cx="756.8" cy="166.48" r="0.84" fill="#d8d414"/>
<circle cx="710.93" cy="158.93" r="1.16" fill="#9ccc2a"/>
<circle cx="754.68" cy="184.81" r="1.03" fill="#d8d414"/>
<circle cx="747.1" cy="144.17" r="1.14" fill="#9ccc2a"/>
<circle cx="745.79" cy="183.86" r="0.6" fill="#d8d414"/>
<circle cx="756.71" cy="156.55" r="0.76" fill="#d8d414"/>
<rect x="435.6" y="191.5" width="66.5" height="58.3" rx="4.5" fill="#071672"/>
<rect x="437.2" y="193.1" width="63.3" height="55.1" rx="3.7" fill="#0a2ea6"/>
<rect x="438.4" y="194.3" width="60.9" height="52.7" rx="3.1" fill="#0d4fcc"/>
<rect x="439.3" y="195.2" width="59.1" height="50.9" rx="2.65" fill="#1672ea"/>
<rect x="440.1" y="196" width="57.5" height="49.3" rx="2.25" fill="#1c8ef6"/>
<rect x="441.8" y="197.7" width="54.1" height="45.9" rx="1.5" fill="#4ca43e"/>
<circle cx="495.86" cy="225.62" r="1.21" fill="#1672ea"/>
<circle cx="468.11" cy="241.46" r="0.85" fill="#1c8ef6"/>
<circle cx="448.16" cy="197.89" r="1.18" fill="#2aa0d0"/>
<circle cx="487.79" cy="243.36" r="0.87" fill="#2aa0d0"/>
<circle cx="461.55" cy="197.7" r="0.94" fill="#2aa0d0"/>
<circle cx="441.8" cy="222.29" r="0.56" fill="#2aa0d0"/>
<circle cx="495.09" cy="243.5" r="1.19" fill="#1c8ef6"/>
<circle cx="442.3" cy="242.06" r="0.79" fill="#1c8ef6"/>
<circle cx="493.31" cy="236.65" r="1.28" fill="#1c8ef6"/>
<circle cx="494.33" cy="205.14" r="0.9" fill="#2aa0d0"/>
<circle cx="444.99" cy="234.34" r="1.04" fill="#1672ea"/>
<circle cx="444.46" cy="201.24" r="0.57" fill="#1c8ef6"/>
<circle cx="447.28" cy="243.54" r="0.77" fill="#1c8ef6"/>
<circle cx="465.59" cy="243.49" r="1.21" fill="#1672ea"/>
<circle cx="480.01" cy="241.61" r="1" fill="#2aa0d0"/>
<circle cx="442.03" cy="198.16" r="0.93" fill="#1c8ef6"/>
<circle cx="473.58" cy="243.48" r="1.18" fill="#2aa0d0"/>
<circle cx="442.76" cy="216.49" r="1" fill="#2aa0d0"/>
<circle cx="495.59" cy="210.53" r="0.63" fill="#2aa0d0"/>
<circle cx="462.85" cy="198.83" r="1.06" fill="#2aa0d0"/>
<circle cx="460.39" cy="241.58" r="0.64" fill="#2aa0d0"/>
<circle cx="492.18" cy="241.67" r="0.98" fill="#2aa0d0"/>
<circle cx="493.57" cy="221.12" r="1.24" fill="#1672ea"/>
<circle cx="474.34" cy="198.34" r="1.26" fill="#1672ea"/>
<circle cx="444.15" cy="222.03" r="0.7" fill="#2aa0d0"/>
<circle cx="443.94" cy="231.97" r="1.09" fill="#2aa0d0"/>
<circle cx="479.26" cy="241.3" r="1.13" fill="#2aa0d0"/>
<circle cx="442.18" cy="206.87" r="0.61" fill="#1672ea"/>
<circle cx="492.74" cy="209.63" r="1.25" fill="#1672ea"/>
<circle cx="494.61" cy="218.57" r="0.73" fill="#1672ea"/>
<circle cx="469.77" cy="243.52" r="0.76" fill="#2aa0d0"/>
<circle cx="444.03" cy="199.89" r="0.76" fill="#2aa0d0"/>
<circle cx="466.66" cy="242.32" r="0.75" fill="#1672ea"/>
<circle cx="454.71" cy="197.95" r="0.53" fill="#1672ea"/>
<rect x="500" y="193" width="66" height="57.5" rx="4.5" fill="#071672"/>
<rect x="501.6" y="194.6" width="62.8" height="54.3" rx="3.7" fill="#0a2ea6"/>
<rect x="502.8" y="195.8" width="60.4" height="51.9" rx="3.1" fill="#0d4fcc"/>
<rect x="503.7" y="196.7" width="58.6" height="50.1" rx="2.65" fill="#1672ea"/>
<rect x="504.5" y="197.5" width="57" height="48.5" rx="2.25" fill="#1c8ef6"/>
<rect x="505" y="198" width="56" height="47.5" rx="2" fill="#5cbc3c"/>
<rect x="506.2" y="199.2" width="53.6" height="45.1" rx="1.5" fill="#8cc322"/>
<circle cx="550.38" cy="244.1" r="0.88" fill="#2aa0d0"/>
<circle cx="551.98" cy="242.96" r="0.69" fill="#1672ea"/>
<circle cx="506.2" cy="223.48" r="0.94" fill="#1672ea"/>
<circle cx="559.37" cy="205.46" r="0.7" fill="#2aa0d0"/>
<circle cx="507.03" cy="205.78" r="1.06" fill="#1c8ef6"/>
<circle cx="527.76" cy="199.21" r="1.02" fill="#1672ea"/>
<circle cx="555.59" cy="243.5" r="0.79" fill="#1c8ef6"/>
<circle cx="549.12" cy="244.23" r="1.1" fill="#2aa0d0"/>
<circle cx="506.55" cy="218.26" r="0.56" fill="#2aa0d0"/>
<circle cx="520.33" cy="243.65" r="0.84" fill="#1672ea"/>
<circle cx="528.31" cy="199.21" r="0.69" fill="#1672ea"/>
<circle cx="533.42" cy="201.21" r="1.15" fill="#2aa0d0"/>
<circle cx="506.37" cy="212.1" r="0.79" fill="#1672ea"/>
<circle cx="541.03" cy="243.29" r="0.66" fill="#1672ea"/>
<circle cx="557.74" cy="243.58" r="0.92" fill="#2aa0d0"/>
<circle cx="557.44" cy="206.52" r="1.17" fill="#2aa0d0"/>
<circle cx="559.54" cy="216.84" r="1.02" fill="#1c8ef6"/>
<circle cx="559.17" cy="229.12" r="1.13" fill="#2aa0d0"/>
<circle cx="554.84" cy="200.86" r="0.8" fill="#1672ea"/>
<circle cx="559.22" cy="206" r="0.56" fill="#2aa0d0"/>
<circle cx="559.39" cy="233.52" r="0.66" fill="#1672ea"/>
<circle cx="508.53" cy="217.12" r="1.02" fill="#1c8ef6"/>
<circle cx="507.57" cy="215.99" r="0.86" fill="#1672ea"/>
<circle cx="557.8" cy="204.38" r="0.91" fill="#1c8ef6"/>
<circle cx="508.68" cy="225.37" r="0.53" fill="#1672ea"/>
<circle cx="506.7" cy="241.69" r="0.79" fill="#1672ea"/>
<circle cx="509.06" cy="210.73" r="1.14" fill="#2aa0d0"/>
<circle cx="559.43" cy="229.6" r="0.69" fill="#1672ea"/>
<circle cx="557.74" cy="233.76" r="0.57" fill="#2aa0d0"/>
<circle cx="536.52" cy="243.29" r="0.55" fill="#2aa0d0"/>
<circle cx="512.26" cy="199.91" r="0.83" fill="#2aa0d0"/>
<circle cx="554.44" cy="199.94" r="0.56" fill="#1c8ef6"/>
<circle cx="519.67" cy="242.19" r="0.59" fill="#1672ea"/>
<circle cx="518.68" cy="243.11" r="0.72" fill="#1672ea"/>
<rect x="567.6" y="193.9" width="65.8" height="57.5" rx="4.5" fill="#071672"/>
<rect x="569.2" y="195.5" width="62.6" height="54.3" rx="3.7" fill="#0a2ea6"/>
<rect x="570.4" y="196.7" width="60.2" height="51.9" rx="3.1" fill="#0d4fcc"/>
<rect x="571.3" y="197.6" width="58.4" height="50.1" rx="2.65" fill="#1672ea"/>
<rect x="572.1" y="198.4" width="56.8" height="48.5" rx="2.25" fill="#1c8ef6"/>
<rect x="572.6" y="198.9" width="55.8" height="47.5" rx="2" fill="#5cbc3c"/>
<rect x="574.1" y="200.4" width="52.8" height="44.5" rx="1.5" fill="#cadb16"/>
<circle cx="625.38" cy="226.26" r="0.76" fill="#48b060"/>
<circle cx="577.65" cy="243.58" r="0.62" fill="#30a0c8"/>
<circle cx="616.26" cy="244.66" r="0.64" fill="#8cc82a"/>
<circle cx="626.18" cy="243.99" r="1.22" fill="#48b060"/>
<circle cx="615.87" cy="244.12" r="0.68" fill="#8cc82a"/>
<circle cx="577.25" cy="243" r="1.04" fill="#8cc82a"/>
<circle cx="583.5" cy="243.14" r="0.56" fill="#48b060"/>
<circle cx="574.42" cy="206.89" r="1.02" fill="#48b060"/>
<circle cx="609.77" cy="203.03" r="0.68" fill="#48b060"/>
<circle cx="626.86" cy="216.02" r="0.64" fill="#30a0c8"/>
<circle cx="576.21" cy="220.32" r="0.69" fill="#8cc82a"/>
<circle cx="625.65" cy="238" r="1.2" fill="#30a0c8"/>
<circle cx="615.34" cy="242.02" r="0.74" fill="#48b060"/>
<circle cx="598.4" cy="244.79" r="1.28" fill="#30a0c8"/>
<circle cx="574.27" cy="227.45" r="1.03" fill="#30a0c8"/>
<circle cx="580.35" cy="242.66" r="1.21" fill="#48b060"/>
<circle cx="594.36" cy="242.51" r="0.94" fill="#30a0c8"/>
<circle cx="577.72" cy="243.93" r="1.15" fill="#8cc82a"/>
<circle cx="617.65" cy="242.58" r="1.26" fill="#48b060"/>
<circle cx="626.85" cy="220.79" r="1.23" fill="#48b060"/>
<circle cx="577" cy="202.72" r="0.75" fill="#8cc82a"/>
<circle cx="580.03" cy="242.38" r="1.05" fill="#30a0c8"/>
<circle cx="624.41" cy="228.63" r="1.16" fill="#30a0c8"/>
<circle cx="626.32" cy="202.18" r="1.18" fill="#48b060"/>
<circle cx="613.41" cy="244.38" r="0.96" fill="#30a0c8"/>
<circle cx="574.81" cy="217.15" r="0.57" fill="#30a0c8"/>
<circle cx="609.73" cy="241.88" r="0.81" fill="#8cc82a"/>
<circle cx="575.25" cy="242.87" r="1.1" fill="#30a0c8"/>
<circle cx="585.49" cy="242.99" r="0.81" fill="#30a0c8"/>
<circle cx="575.89" cy="213.12" r="1.26" fill="#8cc82a"/>
<circle cx="576.99" cy="228.45" r="0.5" fill="#8cc82a"/>
<circle cx="576.07" cy="220.52" r="0.83" fill="#48b060"/>
<circle cx="574.57" cy="223.25" r="0.82" fill="#48b060"/>
<circle cx="625.04" cy="213.71" r="0.98" fill="#30a0c8"/>
<rect x="633" y="193.9" width="65" height="57.1" rx="4.5" fill="#071672"/>
<rect x="634.6" y="195.5" width="61.8" height="53.9" rx="3.7" fill="#0a2ea6"/>
<rect x="635.8" y="196.7" width="59.4" height="51.5" rx="3.1" fill="#0d4fcc"/>
<rect x="636.7" y="197.6" width="57.6" height="49.7" rx="2.65" fill="#1672ea"/>
<rect x="637.5" y="198.4" width="56" height="48.1" rx="2.25" fill="#1c8ef6"/>
<rect x="638" y="198.9" width="55" height="47.1" rx="2" fill="#5cbc3c"/>
<rect x="638.7" y="199.6" width="53.6" height="45.7" rx="1.65" fill="#d6d012"/>
<rect x="639.5" y="200.4" width="52" height="44.1" rx="1.5" fill="#f8b21e"/>
<circle cx="644.62" cy="203.18" r="0.81" fill="#9ccc2a"/>
<circle cx="663.61" cy="244.42" r="0.68" fill="#e0c818"/>
<circle cx="639.67" cy="238.97" r="0.59" fill="#9ccc2a"/>
<circle cx="640.35" cy="209.44" r="0.52" fill="#e0c818"/>
<circle cx="691.05" cy="230.51" r="0.61" fill="#c8d414"/>
<circle cx="640.27" cy="201.8" r="0.81" fill="#9ccc2a"/>
<circle cx="691.5" cy="219.31" r="1.1" fill="#9ccc2a"/>
<circle cx="691.41" cy="218.44" r="0.64" fill="#e0c818"/>
<circle cx="639.6" cy="228.96" r="0.96" fill="#e0c818"/>
<circle cx="689.54" cy="241.32" r="0.78" fill="#c8d414"/>
<circle cx="672.94" cy="202" r="0.97" fill="#9ccc2a"/>
<circle cx="639.15" cy="201.08" r="1.07" fill="#c8d414"/>
<circle cx="691.5" cy="242.39" r="0.7" fill="#9ccc2a"/>
<circle cx="641.03" cy="203.04" r="0.51" fill="#c8d414"/>
<circle cx="687.97" cy="203.09" r="0.61" fill="#9ccc2a"/>
<circle cx="662.06" cy="243.44" r="0.55" fill="#c8d414"/>
<circle cx="639.99" cy="242.73" r="0.75" fill="#e0c818"/>
<circle cx="651.01" cy="244.45" r="0.59" fill="#e0c818"/>
<circle cx="691.31" cy="210.89" r="1.17" fill="#9ccc2a"/>
<circle cx="689.31" cy="243.88" r="0.95" fill="#c8d414"/>
<circle cx="691.44" cy="207.96" r="1.17" fill="#9ccc2a"/>
<circle cx="685.32" cy="244.38" r="0.94" fill="#e0c818"/>
<circle cx="654.39" cy="200.48" r="0.55" fill="#c8d414"/>
<circle cx="690.22" cy="240.35" r="0.7" fill="#e0c818"/>
<circle cx="648.06" cy="242.99" r="1.17" fill="#e0c818"/>
<circle cx="642.03" cy="231.61" r="0.66" fill="#e0c818"/>
<circle cx="689.46" cy="235.63" r="0.56" fill="#c8d414"/>
<circle cx="639.57" cy="202.59" r="1.24" fill="#c8d414"/>
<circle cx="691.78" cy="201.05" r="0.93" fill="#9ccc2a"/>
<circle cx="688.31" cy="219.8" r="1.18" fill="#9ccc2a"/>
<circle cx="641.26" cy="208.69" r="0.96" fill="#9ccc2a"/>
<circle cx="662.67" cy="242.65" r="1.05" fill="#9ccc2a"/>
<circle cx="691.4" cy="221.38" r="0.9" fill="#c8d414"/>
<circle cx="646.89" cy="200.95" r="1.17" fill="#9ccc2a"/>
<rect x="701" y="193" width="64.5" height="57.5" rx="4.5" fill="#071672"/>
<rect x="702.6" y="194.6" width="61.3" height="54.3" rx="3.7" fill="#0a2ea6"/>
<rect x="703.8" y="195.8" width="58.9" height="51.9" rx="3.1" fill="#0d4fcc"/>
<rect x="704.7" y="196.7" width="57.1" height="50.1" rx="2.65" fill="#1672ea"/>
<rect x="705.5" y="197.5" width="55.5" height="48.5" rx="2.25" fill="#1c8ef6"/>
<rect x="706" y="198" width="54.5" height="47.5" rx="2" fill="#5cbc3c"/>
<rect x="706.7" y="198.7" width="53.1" height="46.1" rx="1.65" fill="#d6d012"/>
<rect x="707.5" y="199.5" width="51.5" height="44.5" rx="1.25" fill="#f8a41a"/>
<rect x="708.1" y="200.1" width="50.3" height="43.3" rx="1.5" fill="#ef4428"/>
<circle cx="719.34" cy="242.75" r="0.71" fill="#9ccc2a"/>
<circle cx="713.76" cy="200.25" r="0.92" fill="#f0b418"/>
<circle cx="709.91" cy="222.47" r="1.2" fill="#f0b418"/>
<circle cx="757.61" cy="202.68" r="1.18" fill="#9ccc2a"/>
<circle cx="736.87" cy="241.24" r="1.18" fill="#9ccc2a"/>
<circle cx="730.06" cy="240.89" r="0.73" fill="#f0b418"/>
<circle cx="745.86" cy="202.8" r="0.59" fill="#f0b418"/>
<circle cx="734.69" cy="243.25" r="0.98" fill="#9ccc2a"/>
<circle cx="721.35" cy="201.6" r="1.06" fill="#d8d414"/>
<circle cx="707.56" cy="202.48" r="0.94" fill="#f0b418"/>
<circle cx="710.83" cy="210.62" r="0.78" fill="#d8d414"/>
<circle cx="710.29" cy="206.88" r="0.99" fill="#d8d414"/>
<circle cx="730.26" cy="203.1" r="1.27" fill="#f0b418"/>
<circle cx="724.19" cy="242.33" r="0.71" fill="#f0b418"/>
<circle cx="737.73" cy="242.13" r="1.15" fill="#9ccc2a"/>
<circle cx="731.76" cy="201.56" r="1.05" fill="#d8d414"/>
<circle cx="709.84" cy="221.66" r="0.63" fill="#f0b418"/>
<circle cx="758.39" cy="214.95" r="0.85" fill="#f0b418"/>
<circle cx="738.18" cy="200.11" r="0.94" fill="#d8d414"/>
<circle cx="757.95" cy="223.05" r="1.16" fill="#f0b418"/>
<circle cx="733.98" cy="200.56" r="0.79" fill="#f0b418"/>
<circle cx="756.79" cy="241.79" r="0.62" fill="#d8d414"/>
<circle cx="736.25" cy="200.14" r="0.51" fill="#9ccc2a"/>
<circle cx="729.34" cy="201.75" r="1.16" fill="#f0b418"/>
<circle cx="708.75" cy="216.14" r="1.07" fill="#9ccc2a"/>
<circle cx="733.98" cy="242.34" r="0.65" fill="#d8d414"/>
<circle cx="723.46" cy="243.36" r="1.3" fill="#9ccc2a"/>
<circle cx="708.7" cy="217.15" r="0.76" fill="#d8d414"/>
<circle cx="707.97" cy="242.5" r="0.75" fill="#9ccc2a"/>
<circle cx="758.38" cy="202.99" r="0.6" fill="#9ccc2a"/>
<circle cx="750.29" cy="243.2" r="0.6" fill="#9ccc2a"/>
<circle cx="755.31" cy="227.97" r="0.94" fill="#9ccc2a"/>
<circle cx="751.05" cy="203.1" r="0.89" fill="#d8d414"/>
<circle cx="708.58" cy="213.44" r="1.01" fill="#f0b418"/>
</g></g>
<path d="M494.8,103.06 L500.8,100.48 M494.8,111.66 L500.8,111.66" stroke="#3f9cf8" stroke-width="0.9" opacity="0.8" fill="none"/>
<path d="M556,102.25 L562,99.7 M556,110.75 L562,110.75" stroke="#3f9cf8" stroke-width="0.9" opacity="0.8" fill="none"/>
<path d="M624,102.24 L630,99.72 M624,110.64 L630,110.64" stroke="#3f9cf8" stroke-width="0.9" opacity="0.8" fill="none"/>
<path d="M692.3,103 L698.3,100.37 M692.3,111.76 L698.3,111.76" stroke="#3f9cf8" stroke-width="0.9" opacity="0.8" fill="none"/>
<path d="M758.8,102.62 L764.8,100.04 M758.8,111.2 L764.8,111.2" stroke="#3f9cf8" stroke-width="0.9" opacity="0.8" fill="none"/>
<rect x="467.12" y="96.61" width="5" height="2.8" rx="1" fill="#333" fill-opacity="0.45" stroke="#eee" stroke-width="0.5" stroke-opacity="0.5"/>
<circle cx="466.32" cy="101.81" r="1.3" fill="none" stroke="#ccc" stroke-width="0.7" opacity="0.55"/>
<rect x="529.35" y="95.88" width="5" height="2.8" rx="1" fill="#333" fill-opacity="0.45" stroke="#eee" stroke-width="0.5" stroke-opacity="0.5"/>
<circle cx="528.55" cy="101.08" r="1.3" fill="none" stroke="#ccc" stroke-width="0.7" opacity="0.55"/>
<rect x="594.65" y="95.94" width="5" height="2.8" rx="1" fill="#333" fill-opacity="0.45" stroke="#eee" stroke-width="0.5" stroke-opacity="0.5"/>
<circle cx="593.85" cy="101.14" r="1.3" fill="none" stroke="#ccc" stroke-width="0.7" opacity="0.55"/>
<rect x="662.95" y="96.43" width="5" height="2.8" rx="1" fill="#333" fill-opacity="0.45" stroke="#eee" stroke-width="0.5" stroke-opacity="0.5"/>
<circle cx="662.15" cy="101.63" r="1.3" fill="none" stroke="#ccc" stroke-width="0.7" opacity="0.55"/>
<rect x="730.85" y="96.18" width="5" height="2.8" rx="1" fill="#333" fill-opacity="0.45" stroke="#eee" stroke-width="0.5" stroke-opacity="0.5"/>
<circle cx="730.05" cy="101.38" r="1.3" fill="none" stroke="#ccc" stroke-width="0.7" opacity="0.55"/>
<rect x="472.21" y="150.5" width="5" height="2.8" rx="1" fill="#333" fill-opacity="0.45" stroke="#eee" stroke-width="0.5" stroke-opacity="0.5"/>
<circle cx="471.41" cy="155.7" r="1.3" fill="none" stroke="#ccc" stroke-width="0.7" opacity="0.55"/>
<rect x="534.93" y="149.4" width="5" height="2.8" rx="1" fill="#333" fill-opacity="0.45" stroke="#eee" stroke-width="0.5" stroke-opacity="0.5"/>
<circle cx="534.13" cy="154.6" r="1.3" fill="none" stroke="#ccc" stroke-width="0.7" opacity="0.55"/>
<rect x="603.4" y="150.12" width="5" height="2.8" rx="1" fill="#333" fill-opacity="0.45" stroke="#eee" stroke-width="0.5" stroke-opacity="0.5"/>
<circle cx="602.6" cy="155.32" r="1.3" fill="none" stroke="#ccc" stroke-width="0.7" opacity="0.55"/>
<rect x="667.87" y="151.32" width="5" height="2.8" rx="1" fill="#333" fill-opacity="0.45" stroke="#eee" stroke-width="0.5" stroke-opacity="0.5"/>
<circle cx="667.07" cy="156.52" r="1.3" fill="none" stroke="#ccc" stroke-width="0.7" opacity="0.55"/>
<rect x="735.78" y="149.88" width="5" height="2.8" rx="1" fill="#333" fill-opacity="0.45" stroke="#eee" stroke-width="0.5" stroke-opacity="0.5"/>
<circle cx="734.99" cy="155.08" r="1.3" fill="none" stroke="#ccc" stroke-width="0.7" opacity="0.55"/>
<rect x="471.58" y="206.76" width="5" height="2.8" rx="1" fill="#333" fill-opacity="0.45" stroke="#eee" stroke-width="0.5" stroke-opacity="0.5"/>
<circle cx="470.78" cy="211.96" r="1.3" fill="none" stroke="#ccc" stroke-width="0.7" opacity="0.55"/>
<rect x="535.7" y="208.1" width="5" height="2.8" rx="1" fill="#333" fill-opacity="0.45" stroke="#eee" stroke-width="0.5" stroke-opacity="0.5"/>
<circle cx="534.9" cy="213.3" r="1.3" fill="none" stroke="#ccc" stroke-width="0.7" opacity="0.55"/>
<rect x="603.19" y="209" width="5" height="2.8" rx="1" fill="#333" fill-opacity="0.45" stroke="#eee" stroke-width="0.5" stroke-opacity="0.5"/>
<circle cx="602.39" cy="214.2" r="1.3" fill="none" stroke="#ccc" stroke-width="0.7" opacity="0.55"/>
<rect x="668.15" y="208.92" width="5" height="2.8" rx="1" fill="#333" fill-opacity="0.45" stroke="#eee" stroke-width="0.5" stroke-opacity="0.5"/>
<circle cx="667.35" cy="214.12" r="1.3" fill="none" stroke="#ccc" stroke-width="0.7" opacity="0.55"/>
<rect x="735.88" y="208.1" width="5" height="2.8" rx="1" fill="#333" fill-opacity="0.45" stroke="#eee" stroke-width="0.5" stroke-opacity="0.5"/>
<circle cx="735.08" cy="213.3" r="1.3" fill="none" stroke="#ccc" stroke-width="0.7" opacity="0.55"/>
<line x1="565" y1="135.4" x2="766" y2="135.4" stroke="#e4e4f0" stroke-width="1.1" />
<line x1="437" y1="193" x2="566" y2="193" stroke="#e4e4f0" stroke-width="1.1" />
<line x1="631.7" y1="80.5" x2="631.7" y2="135" stroke="#e4e4f0" stroke-width="1.1" />
<line x1="701.7" y1="80.5" x2="701.7" y2="135" stroke="#e4e4f0" stroke-width="1.1" />
<line x1="699.3" y1="136" x2="699.3" y2="192.5" stroke="#e4e4f0" stroke-width="1.1" />
<line x1="566.5" y1="193.5" x2="566.5" y2="251.3" stroke="#e4e4f0" stroke-width="1.1" />
<line x1="700" y1="193.5" x2="700" y2="251.3" stroke="#e4e4f0" stroke-width="1.1" />
<rect x="436.5" y="134.6" width="129" height="1.2" fill="#1a1c50"/>
<g filter="url(#blt)">
<text x="397.3" y="113" font-size="15.5" text-anchor="start" font-weight="normal" fill="#1a1a1a" >S1</text>
<text x="397.3" y="167.8" font-size="15.5" text-anchor="start" font-weight="normal" fill="#1a1a1a" >S2</text>
<text x="397.3" y="228" font-size="15.5" text-anchor="start" font-weight="normal" fill="#1a1a1a" >S3</text>
</g>
<path d="M436.5,255 L755,255 L755,252.4 L765.6,260.4 L755,270.6 L755,265.6 L436.5,265.6 Z" fill="#4f7fbc"/>
<g filter="url(#blt)">
<text x="470.9" y="283.7" font-size="12.5" text-anchor="middle" font-weight="normal" fill="#2a2a2a" >3</text>
<text x="528.9" y="283.7" font-size="12.5" text-anchor="middle" font-weight="normal" fill="#2a2a2a" >6</text>
<text x="598" y="283.7" font-size="12.5" text-anchor="middle" font-weight="normal" fill="#2a2a2a" >9</text>
<text x="665" y="283.7" font-size="12.5" text-anchor="middle" font-weight="normal" fill="#2a2a2a" >12</text>
<text x="728" y="283.7" font-size="12.5" text-anchor="middle" font-weight="normal" fill="#2a2a2a" >15</text>
</g>
<text x="620.4" y="308" font-size="19.7" text-anchor="middle" font-weight="normal" fill="#111" >Time(min)</text>
<path d="M843.3,244.45 L844.5,230.94 L845.7,218.55 L846.9,208.73 L848.1,201.65 L849.31,196.93 L850.51,191.16 L851.71,185.46 L852.91,178.75 L854.11,172.36 L855.31,167.7 L856.51,165.33 L857.71,163.44 L858.91,161.47 L860.12,158.05 L861.32,154.5 L862.52,149.88 L863.72,145.54 L864.92,141.43 L866.12,137.2 L867.32,133.04 L868.52,129.1 L869.72,125.78 L870.93,122.3 L872.13,119.16 L873.33,116.17 L874.53,112.55 L875.73,109.72 L876.93,107.59 L878.13,104.75 L879.33,102.28 L880.53,99.81 L881.74,97.54 L882.94,95.06 L884.14,93.12 L885.34,90.59 L886.54,89.32 L887.74,87.38 L888.94,85.96 L890.14,84.22 L891.34,83.12 L892.54,81.73 L893.75,80.76 L894.95,79.5 L896.15,78.83 L897.35,78.06 L898.55,77.14 L899.75,76.91 L900.95,76.46 L902.15,75.31 L903.35,74.13 L904.56,73.05 L905.76,71.65 L906.96,70.3 L908.16,70.29 L909.36,70.09 L910.56,69.34 L911.76,69.13 L912.96,68.24 L914.16,67.92 L915.37,67.15 L916.57,66.51 L917.77,65.7 L918.97,65.4 L920.17,64.82 L921.37,63.97 L922.57,63.21 L923.77,62.63 L924.97,62.12 L926.18,61.95 L927.38,61.19 L928.58,60.67 L929.78,59.99 L930.98,59.12 L932.18,58.89 L933.38,58.89 L934.58,58.5 L935.78,58.24 L936.99,57.8 L938.19,57.4 L939.39,57.09 L940.59,56.85 L941.79,56.22 L942.99,55.67 L944.19,55.61 L945.39,55.25 L946.59,55.24 L947.8,55.26 L949,54.91 L950.2,54.73 L951.4,54.47 L952.6,54.46 L953.8,54.39 L955,54.27 L956.2,54.32 L957.4,53.63 L958.61,53.57 L959.81,53.32 L961.01,53.69 L962.21,53.39 L963.41,53.28 L964.61,53.25 L965.81,52.64 L967.01,53.06 L968.21,52.59 L969.41,52.65 L970.62,52.39 L971.82,52.47 L973.02,52.08 L974.22,51.94 L975.42,51.82 L976.62,52.05 L977.82,51.86 L979.02,51.65 L980.22,51.74 L981.43,51.85 L982.63,51.7 L983.83,51.81 L985.03,51.93 L986.23,51.78 L987.43,51.85 L988.63,51.53 L989.83,51.84 L991.03,51.86 L992.24,51.59 L993.44,51.26 L994.64,51.27 L995.84,51.65 L997.04,51.69 L998.24,51.57 L999.44,51.41 L1000.64,51.39 L1001.84,51.07 L1003.05,51.29 L1004.25,51.46 L1005.45,50.92 L1006.65,51.09 L1007.85,51.17 L1009.05,50.98 L1010.25,50.73 L1011.45,50.59 L1012.65,50.82 L1013.86,50.87 L1015.06,50.77 L1016.26,50.42 L1017.46,50.56 L1018.66,50.54 L1019.86,50.23 L1021.06,50.43 L1022.26,50.18 L1023.46,50.04 L1024.67,49.89 L1025.87,50.29 L1027.07,50.28 L1028.27,49.83 L1029.47,49.81 L1030.67,49.93 L1031.87,49.84 L1033.07,50.12 L1034.27,49.77 L1035.48,49.98 L1036.68,49.93 L1037.88,49.78 L1039.08,50.05 L1040.28,49.77 L1041.48,49.78 L1042.68,49.84 L1043.88,49.64 L1045.08,49.47 L1046.29,49.89 L1047.49,49.73 L1048.69,49.57 L1049.89,49.5 L1051.09,49.53 L1052.29,49.3 L1053.49,49.13 L1054.69,49.37 L1055.89,49.55 L1057.09,49.02 L1058.3,49.48 L1059.5,49.04 L1060.7,49.34 L1061.9,49.12 L1063.1,48.75 L1064.3,48.63 L1065.5,48.96 L1066.7,48.94 L1067.9,48.75 L1069.11,48.54 L1070.31,48.44 L1071.51,48.51 L1072.71,48.46 L1073.91,48.46 L1075.11,48.21 L1076.31,48.65 L1077.51,48.84 L1078.71,48.73 L1079.92,48.51 L1081.12,48.73 L1082.32,49.13 L1083.52,49.11 L1084.72,49.52 L1085.92,49.47 L1087.12,49.63 L1088.32,49.41 L1089.52,49.75 L1090.73,49.98 L1091.93,50.22 L1093.13,50.33 L1094.33,50.06 L1095.53,50.26 L1096.73,50.45 L1097.93,49.75 L1099.13,49.56 L1100.33,49.45 L1101.54,49.61 L1102.74,49.19 L1103.94,49.24 L1105.14,49.14 L1106.34,49.01 L1107.54,48.56 L1108.74,49.05 L1109.94,49.24 L1111.14,49.3 L1112.35,49.51 L1113.55,49.6 L1114.75,49.59 L1115.95,49.86 L1117.15,49.8 L1118.35,49.68 L1119.55,49.96 L1120.75,50.52 L1121.95,50.34 L1123.16,50.6 L1124.36,51.01 L1125.56,51.08 L1126.76,51.32 L1127.96,51.25 L1129.16,51.27 L1130.36,50.88 L1131.56,50.77 L1132.76,50.57 L1133.96,50.63 L1135.17,50.44 L1136.37,50 L1137.57,50.16 L1138.77,49.69 L1139.97,49.82 L1141.17,49.68 L1142.37,50.06 L1143.57,49.98 L1144.77,50.58 L1145.98,50.35 L1147.18,50.74 L1148.38,50.63 L1149.58,50.66 L1150.78,50.99 L1151.98,50.58 L1153.18,50.61 L1154.38,50.57 L1155.58,50.66 L1156.79,50.37 L1157.99,49.86 L1159.19,49.99 L1160.39,50.17 L1161.59,50.02 L1162.79,49.65 L1163.99,49.45 L1165.19,49.48 L1166.39,49.71 L1167.6,49.31 L1168.8,49.67 L1170,49.24 L1171.2,49.44 L1172.4,49.26" fill="none" stroke="#111111" stroke-width="2" stroke-linejoin="round" stroke-linecap="round" />
<path d="M843.3,248.19 L844.5,241.88 L845.7,235.18 L846.9,229 L848.1,223.02 L849.31,217.11 L850.51,211.72 L851.71,206.47 L852.91,201.93 L854.11,197.23 L855.31,192.97 L856.51,188.98 L857.71,184.84 L858.91,180.58 L860.12,176.91 L861.32,173.27 L862.52,170.91 L863.72,168.54 L864.92,166.02 L866.12,163.83 L867.32,161.47 L868.52,159.09 L869.72,157.15 L870.93,155.38 L872.13,153.61 L873.33,151.4 L874.53,149.74 L875.73,148.33 L876.93,146.05 L878.13,144.37 L879.33,142.92 L880.53,142.27 L881.74,140.89 L882.94,139.74 L884.14,138.43 L885.34,137.79 L886.54,136.74 L887.74,135.45 L888.94,134.52 L890.14,133.4 L891.34,132.51 L892.54,131.77 L893.75,131.18 L894.95,130.42 L896.15,129.89 L897.35,129.04 L898.55,128.37 L899.75,128.26 L900.95,127.73 L902.15,127.33 L903.35,126.7 L904.56,126.41 L905.76,126.12 L906.96,125.92 L908.16,125.29 L909.36,125.06 L910.56,124.74 L911.76,124.57 L912.96,123.93 L914.16,123.37 L915.37,123.27 L916.57,123.21 L917.77,122.44 L918.97,122.36 L920.17,121.72 L921.37,121.45 L922.57,121.32 L923.77,120.65 L924.97,120.49 L926.18,120.19 L927.38,119.67 L928.58,119.5 L929.78,119.16 L930.98,118.43 L932.18,118.32 L933.38,117.93 L934.58,117.44 L935.78,117.04 L936.99,116.64 L938.19,116.35 L939.39,115.92 L940.59,115.28 L941.79,115.11 L942.99,114.76 L944.19,114.21 L945.39,113.92 L946.59,112.66 L947.8,111.69 L949,110.56 L950.2,109.44 L951.4,108.05 L952.6,107.2 L953.8,105.77 L955,105.09 L956.2,104.3 L957.4,103.78 L958.61,103.21 L959.81,102.62 L961.01,101.49 L962.21,101.23 L963.41,100.3 L964.61,99.53 L965.81,98.14 L967.01,97.25 L968.21,95.41 L969.41,93.98 L970.62,92.53 L971.82,91.03 L973.02,89.6 L974.22,88.14 L975.42,86.79 L976.62,85.11 L977.82,83.71 L979.02,82.17 L980.22,80.53 L981.43,78.55 L982.63,77.09 L983.83,75.48 L985.03,73.85 L986.23,72.25 L987.43,71.12 L988.63,70.64 L989.83,69.76 L991.03,68.75 L992.24,68.12 L993.44,66.94 L994.64,66.55 L995.84,65.8 L997.04,65.02 L998.24,63.68 L999.44,63.25 L1000.64,62.65 L1001.84,61.77 L1003.05,61.61 L1004.25,60.92 L1005.45,60.5 L1006.65,59.95 L1007.85,59.67 L1009.05,59.57 L1010.25,58.97 L1011.45,58.66 L1012.65,58.34 L1013.86,57.45 L1015.06,57.5 L1016.26,57.18 L1017.46,56.68 L1018.66,56.14 L1019.86,55.7 L1021.06,55.51 L1022.26,55.12 L1023.46,54.7 L1024.67,54.6 L1025.87,54.22 L1027.07,53.65 L1028.27,53.24 L1029.47,53.11 L1030.67,52.96 L1031.87,52.69 L1033.07,52.44 L1034.27,52.36 L1035.48,52.05 L1036.68,51.62 L1037.88,51.57 L1039.08,51.29 L1040.28,50.88 L1041.48,50.61 L1042.68,50.6 L1043.88,50.69 L1045.08,50.59 L1046.29,50.21 L1047.49,50.24 L1048.69,49.84 L1049.89,50.04 L1051.09,49.84 L1052.29,49.94 L1053.49,49.93 L1054.69,49.39 L1055.89,49.87 L1057.09,49.34 L1058.3,49.76 L1059.5,49.71 L1060.7,49.19 L1061.9,49.18 L1063.1,49.03 L1064.3,49.43 L1065.5,49.28 L1066.7,49.35 L1067.9,49.2 L1069.11,48.87 L1070.31,49.06 L1071.51,48.75 L1072.71,48.68 L1073.91,48.72 L1075.11,48.92 L1076.31,48.75 L1077.51,48.95 L1078.71,49.02 L1079.92,49.21 L1081.12,49.08 L1082.32,49.1 L1083.52,49.24 L1084.72,49.23 L1085.92,49.4 L1087.12,49.03 L1088.32,49.07 L1089.52,48.99 L1090.73,49.21 L1091.93,49.47 L1093.13,49.32 L1094.33,49.35 L1095.53,49.54 L1096.73,49.51 L1097.93,49.25 L1099.13,49.27 L1100.33,49.52 L1101.54,49.39 L1102.74,49.67 L1103.94,49.42 L1105.14,49.66 L1106.34,49.9 L1107.54,49.6 L1108.74,49.48 L1109.94,49.78 L1111.14,49.39 L1112.35,49.76 L1113.55,49.53 L1114.75,49.63 L1115.95,49.36 L1117.15,49.3 L1118.35,49.17 L1119.55,49.1 L1120.75,49.69 L1121.95,49.31 L1123.16,49.29 L1124.36,49.85 L1125.56,49.68 L1126.76,49.76 L1127.96,50.01 L1129.16,49.89 L1130.36,49.56 L1131.56,49.52 L1132.76,49.69 L1133.96,49.64 L1135.17,49.31 L1136.37,49.27 L1137.57,49.36 L1138.77,49.04 L1139.97,49.46 L1141.17,49.36 L1142.37,49.05 L1143.57,49.31 L1144.77,49.32 L1145.98,49.02 L1147.18,49.22 L1148.38,49.44 L1149.58,49.24 L1150.78,49.4 L1151.98,49.1 L1153.18,49.56 L1154.38,49.37 L1155.58,49.3 L1156.79,48.97 L1157.99,49.18 L1159.19,48.97 L1160.39,49.23 L1161.59,49.07 L1162.79,49.11 L1163.99,49.15 L1165.19,49.05 L1166.39,49.13 L1167.6,49.27 L1168.8,49.04 L1170,49.3 L1171.2,49.53 L1172.4,49.26" fill="none" stroke="#1a1aff" stroke-width="2" stroke-linejoin="round" stroke-linecap="round" />
<path d="M843.3,247.12 L844.5,240.39 L845.7,233.67 L846.9,226.45 L848.1,220.66 L849.31,215.02 L850.51,210.32 L851.71,205.11 L852.91,200.69 L854.11,196.45 L855.31,191.88 L856.51,187.67 L857.71,183.9 L858.91,179.71 L860.12,175.56 L861.32,172.15 L862.52,169.66 L863.72,167.85 L864.92,165.51 L866.12,163.04 L867.32,160.94 L868.52,158.75 L869.72,156.12 L870.93,154.63 L872.13,152.94 L873.33,151.05 L874.53,149.23 L875.73,147.13 L876.93,145.4 L878.13,143.4 L879.33,142.47 L880.53,141.42 L881.74,140.43 L882.94,139.37 L884.14,138.61 L885.34,137.9 L886.54,137.37 L887.74,136.25 L888.94,135.67 L890.14,134.5 L891.34,133.83 L892.54,133.12 L893.75,132.45 L894.95,132.05 L896.15,131.09 L897.35,130.37 L898.55,129.88 L899.75,129.07 L900.95,128.76 L902.15,128.18 L903.35,127.83 L904.56,127.15 L905.76,126.69 L906.96,126.29 L908.16,126.17 L909.36,125.71 L910.56,125.04 L911.76,124.56 L912.96,123.87 L914.16,123.9 L915.37,123.31 L916.57,122.76 L917.77,122.21 L918.97,122.05 L920.17,121.89 L921.37,121.33 L922.57,121.03 L923.77,120.8 L924.97,120.16 L926.18,118.98 L927.38,118.05 L928.58,117.27 L929.78,116.51 L930.98,115.35 L932.18,114.17 L933.38,113.34 L934.58,112.35 L935.78,111.73 L936.99,110.44 L938.19,109.93 L939.39,108.55 L940.59,107.52 L941.79,106.46 L942.99,105.78 L944.19,104.83 L945.39,104.03 L946.59,102.81 L947.8,101.14 L949,98.89 L950.2,97.39 L951.4,94.95 L952.6,92.91 L953.8,90.92 L955,89.47 L956.2,88.11 L957.4,86.63 L958.61,85.32 L959.81,83.89 L961.01,82.96 L962.21,81.75 L963.41,80.12 L964.61,78.91 L965.81,77.94 L967.01,76.64 L968.21,75.02 L969.41,74.33 L970.62,73.14 L971.82,72.21 L973.02,71.06 L974.22,70.54 L975.42,69.31 L976.62,68.51 L977.82,67.81 L979.02,66.8 L980.22,65.5 L981.43,64.55 L982.63,63.69 L983.83,62.72 L985.03,62.27 L986.23,61.15 L987.43,60.2 L988.63,59.27 L989.83,58.63 L991.03,58.02 L992.24,57.67 L993.44,56.96 L994.64,56.71 L995.84,56.17 L997.04,55.65 L998.24,55.06 L999.44,54.21 L1000.64,53.94 L1001.84,53.86 L1003.05,53.28 L1004.25,53.12 L1005.45,52.61 L1006.65,52.68 L1007.85,52.1 L1009.05,51.82 L1010.25,51.8 L1011.45,51.08 L1012.65,50.75 L1013.86,50.77 L1015.06,50.61 L1016.26,50.25 L1017.46,50.27 L1018.66,50.34 L1019.86,50.25 L1021.06,50.12 L1022.26,49.88 L1023.46,49.3 L1024.67,49.31 L1025.87,49.21 L1027.07,48.8 L1028.27,49.1 L1029.47,48.65 L1030.67,48.82 L1031.87,48.63 L1033.07,48.27 L1034.27,48.2 L1035.48,48.15 L1036.68,47.88 L1037.88,47.65 L1039.08,47.78 L1040.28,47.58 L1041.48,47.61 L1042.68,48.02 L1043.88,48.11 L1045.08,48.03 L1046.29,47.92 L1047.49,48.48 L1048.69,48.29 L1049.89,48.31 L1051.09,48.81 L1052.29,48.96 L1053.49,48.58 L1054.69,48.76 L1055.89,48.96 L1057.09,48.74 L1058.3,48.64 L1059.5,48.52 L1060.7,48.45 L1061.9,48.96 L1063.1,48.89 L1064.3,48.46 L1065.5,48.68 L1066.7,48.35 L1067.9,48.63 L1069.11,48.35 L1070.31,48.48 L1071.51,48.32 L1072.71,47.99 L1073.91,48.2 L1075.11,48.15 L1076.31,47.67 L1077.51,47.55 L1078.71,47.57 L1079.92,47.72 L1081.12,47.76 L1082.32,47.32 L1083.52,47.46 L1084.72,47.32 L1085.92,47.12 L1087.12,47.34 L1088.32,47.7 L1089.52,47.6 L1090.73,47.73 L1091.93,47.97 L1093.13,47.75 L1094.33,48.05 L1095.53,48.16 L1096.73,48.18 L1097.93,48.2 L1099.13,47.89 L1100.33,47.95 L1101.54,47.89 L1102.74,47.61 L1103.94,47.96 L1105.14,48.01 L1106.34,47.71 L1107.54,47.56 L1108.74,47.48 L1109.94,47.47 L1111.14,47.36 L1112.35,47.25 L1113.55,47.59 L1114.75,47.19 L1115.95,47.04 L1117.15,47.28 L1118.35,46.93 L1119.55,47.24 L1120.75,47.48 L1121.95,47.75 L1123.16,47.56 L1124.36,47.52 L1125.56,48.19 L1126.76,47.73 L1127.96,48.07 L1129.16,48.15 L1130.36,48.4 L1131.56,47.96 L1132.76,47.84 L1133.96,47.8 L1135.17,47.8 L1136.37,47.6 L1137.57,48 L1138.77,47.72 L1139.97,47.85 L1141.17,47.61 L1142.37,47.9 L1143.57,48.11 L1144.77,47.76 L1145.98,48.25 L1147.18,47.91 L1148.38,48.23 L1149.58,48.41 L1150.78,48.14 L1151.98,48.38 L1153.18,48 L1154.38,47.97 L1155.58,48.2 L1156.79,47.95 L1157.99,47.56 L1159.19,47.56 L1160.39,47.74 L1161.59,47.58 L1162.79,47.4 L1163.99,47.85 L1165.19,47.56 L1166.39,47.91 L1167.6,47.58 L1168.8,47.47 L1170,47.62 L1171.2,47.86 L1172.4,47.66" fill="none" stroke="#22ee22" stroke-width="2" stroke-linejoin="round" stroke-linecap="round" />
<path d="M843.3,246.05 L844.5,236.33 L845.7,226.16 L846.91,217.18 L848.11,211.03 L849.31,206.01 L850.51,201.35 L851.71,196.72 L852.91,192.83 L854.12,189.74 L855.32,186 L856.52,182.05 L857.72,178.78 L858.92,175.42 L860.13,173.34 L861.33,170.82 L862.53,168.49 L863.73,165.92 L864.93,163.53 L866.14,161.37 L867.34,158.7 L868.54,156.24 L869.74,153.98 L870.94,152.18 L872.14,149.52 L873.35,147.11 L874.55,145.13 L875.75,142.73 L876.95,141.25 L878.15,140.31 L879.36,139.02 L880.56,138.17 L881.76,137.51 L882.96,136.51 L884.16,135.54 L885.37,134.08 L886.57,133.67 L887.77,132.43 L888.97,131.13 L890.17,130.55 L891.37,128.95 L892.58,128.38 L893.78,126.72 L894.98,125.67 L896.18,124.82 L897.38,123.82 L898.59,122.72 L899.79,121.78 L900.99,120.26 L902.19,119.48 L903.39,117.57 L904.59,115.37 L905.8,112.17 L907,109.2 L908.2,105.85 L909.4,103.31 L910.6,100.17 L911.81,97.84 L913.01,95.96 L914.21,94.17 L915.41,91.84 L916.61,89.68 L917.82,87.26 L919.02,84.43 L920.22,81.74 L921.42,79.56 L922.62,77.95 L923.82,76.49 L925.03,74.83 L926.23,73.75 L927.43,72.67 L928.63,71.58 L929.83,70.33 L931.04,69.3 L932.24,68.93 L933.44,67.86 L934.64,66.8 L935.84,66.43 L937.05,65.74 L938.25,65.18 L939.45,64.42 L940.65,64.01 L941.85,63.22 L943.05,62.58 L944.26,61.89 L945.46,61.48 L946.66,60.9 L947.86,59.9 L949.06,59.12 L950.27,58.57 L951.47,58.24 L952.67,57.48 L953.87,56.92 L955.07,57.13 L956.27,56.59 L957.48,56.08 L958.68,56.19 L959.88,55.76 L961.08,55.67 L962.28,55.37 L963.49,55.07 L964.69,54.81 L965.89,54.22 L967.09,54.18 L968.29,53.7 L969.5,53.51 L970.7,52.95 L971.9,52.91 L973.1,52.28 L974.3,52.46 L975.5,51.81 L976.71,51.9 L977.91,51.99 L979.11,51.9 L980.31,51.84 L981.51,51.5 L982.72,51.21 L983.92,51.68 L985.12,51.19 L986.32,51.45 L987.52,51.1 L988.73,51.04 L989.93,51.02 L991.13,50.95 L992.33,51.01 L993.53,50.82 L994.73,50.49 L995.94,50.63 L997.14,50.28 L998.34,50.66 L999.54,50.18 L1000.74,50.24 L1001.95,50.33 L1003.15,50.15 L1004.35,50.45 L1005.55,50.35 L1006.75,50.04 L1007.95,50.07 L1009.16,50.22 L1010.36,50.05 L1011.56,50.09 L1012.76,49.87 L1013.96,49.98 L1015.17,49.96 L1016.37,50.11 L1017.57,49.74 L1018.77,49.98 L1019.97,49.6 L1021.18,49.61 L1022.38,49.55 L1023.58,49.94 L1024.78,49.41 L1025.98,49.5 L1027.18,49.58 L1028.39,49.69 L1029.59,49.63 L1030.79,49.28 L1031.99,49.41 L1033.19,49.58 L1034.4,49.2 L1035.6,49.16 L1036.8,49.55 L1038,49.03 L1039.2,49.05 L1040.41,49.09 L1041.61,49.47 L1042.81,49.17 L1044.01,49.22 L1045.21,49.29 L1046.41,49.5 L1047.62,48.99 L1048.82,49.08 L1050.02,49.21 L1051.22,49.35 L1052.42,49.04 L1053.63,49.23 L1054.83,49.31 L1056.03,49 L1057.23,49.12 L1058.43,48.82 L1059.63,49.16 L1060.84,48.44 L1062.04,48.36 L1063.24,48.45 L1064.44,48.05 L1065.64,48.08 L1066.85,47.76 L1068.05,48.06 L1069.25,47.87 L1070.45,47.91 L1071.65,47.98 L1072.86,48.33 L1074.06,48.68 L1075.26,48.83 L1076.46,48.99 L1077.66,49.06 L1078.86,49.43 L1080.07,49.13 L1081.27,49.16 L1082.47,49.32 L1083.67,49.15 L1084.87,48.88 L1086.08,48.99 L1087.28,48.9 L1088.48,48.54 L1089.68,48.52 L1090.88,48.66 L1092.09,48.35 L1093.29,48.26 L1094.49,48.3 L1095.69,48 L1096.89,48.18 L1098.09,48.73 L1099.3,48.41 L1100.5,48.86 L1101.7,48.49 L1102.9,48.79 L1104.1,49.03 L1105.31,49.03 L1106.51,49.47 L1107.71,49.43 L1108.91,48.92 L1110.11,48.7 L1111.31,49.06 L1112.52,48.86 L1113.72,48.58 L1114.92,48.19 L1116.12,48.04 L1117.32,48.37 L1118.53,48.36 L1119.73,48.28 L1120.93,48.26 L1122.13,48.29 L1123.33,48.4 L1124.54,48.49 L1125.74,48.66 L1126.94,48.6 L1128.14,48.59 L1129.34,48.47 L1130.54,48.63 L1131.75,48.68 L1132.95,48.11 L1134.15,48.35 L1135.35,48.15 L1136.55,47.79 L1137.76,47.61 L1138.96,47.92 L1140.16,47.39 L1141.36,47.25 L1142.56,47.12 L1143.77,47.44 L1144.97,47.06 L1146.17,46.72 L1147.37,46.77 L1148.57,46.79 L1149.77,46.66 L1150.98,46.4 L1152.18,46.81 L1153.38,46.72 L1154.58,46.46 L1155.78,46.49 L1156.99,46.45 L1158.19,46.31 L1159.39,46.66 L1160.59,46.47 L1161.79,46.73 L1162.99,46.9 L1164.2,46.66 L1165.4,46.71 L1166.6,46.83 L1167.8,46.97 L1169,46.79 L1170.21,47.13" fill="none" stroke="#ff1a1a" stroke-width="2" stroke-linejoin="round" stroke-linecap="round" />
<rect x="843" y="11.4" width="330" height="266.6" fill="none" stroke="#111" stroke-width="2"/>
<line x1="837.5" y1="278.05" x2="843" y2="278.05" stroke="#111" stroke-width="1.6" />
<text x="833.4" y="283.45" font-size="17" text-anchor="end" font-weight="normal" fill="#111" >20</text>
<line x1="837.5" y1="224.72" x2="843" y2="224.72" stroke="#111" stroke-width="1.6" />
<text x="833.4" y="230.12" font-size="17" text-anchor="end" font-weight="normal" fill="#111" >30</text>
<line x1="837.5" y1="171.39" x2="843" y2="171.39" stroke="#111" stroke-width="1.6" />
<text x="833.4" y="176.79" font-size="17" text-anchor="end" font-weight="normal" fill="#111" >40</text>
<line x1="837.5" y1="118.06" x2="843" y2="118.06" stroke="#111" stroke-width="1.6" />
<text x="833.4" y="123.46" font-size="17" text-anchor="end" font-weight="normal" fill="#111" >50</text>
<line x1="837.5" y1="64.73" x2="843" y2="64.73" stroke="#111" stroke-width="1.6" />
<text x="833.4" y="70.13" font-size="17" text-anchor="end" font-weight="normal" fill="#111" >60</text>
<line x1="837.5" y1="11.4" x2="843" y2="11.4" stroke="#111" stroke-width="1.6" />
<text x="833.4" y="16.8" font-size="17" text-anchor="end" font-weight="normal" fill="#111" >70</text>
<line x1="840.5" y1="251.39" x2="843" y2="251.39" stroke="#111" stroke-width="1.4" />
<line x1="840.5" y1="198.06" x2="843" y2="198.06" stroke="#111" stroke-width="1.4" />
<line x1="840.5" y1="144.73" x2="843" y2="144.73" stroke="#111" stroke-width="1.4" />
<line x1="840.5" y1="91.4" x2="843" y2="91.4" stroke="#111" stroke-width="1.4" />
<line x1="840.5" y1="38.06" x2="843" y2="38.06" stroke="#111" stroke-width="1.4" />
<line x1="843.3" y1="278" x2="843.3" y2="282.5" stroke="#111" stroke-width="1.6" />
<text x="843.9" y="299.4" font-size="17" text-anchor="middle" font-weight="normal" fill="#111" >0</text>
<line x1="898.15" y1="278" x2="898.15" y2="282.5" stroke="#111" stroke-width="1.6" />
<text x="898.75" y="299.4" font-size="17" text-anchor="middle" font-weight="normal" fill="#111" >5</text>
<line x1="953" y1="278" x2="953" y2="282.5" stroke="#111" stroke-width="1.6" />
<text x="953.6" y="299.4" font-size="17" text-anchor="middle" font-weight="normal" fill="#111" >10</text>
<line x1="1007.85" y1="278" x2="1007.85" y2="282.5" stroke="#111" stroke-width="1.6" />
<text x="1008.45" y="299.4" font-size="17" text-anchor="middle" font-weight="normal" fill="#111" >15</text>
<line x1="1062.7" y1="278" x2="1062.7" y2="282.5" stroke="#111" stroke-width="1.6" />
<text x="1063.3" y="299.4" font-size="17" text-anchor="middle" font-weight="normal" fill="#111" >20</text>
<line x1="1117.55" y1="278" x2="1117.55" y2="282.5" stroke="#111" stroke-width="1.6" />
<text x="1118.15" y="299.4" font-size="17" text-anchor="middle" font-weight="normal" fill="#111" >25</text>
<line x1="1172.4" y1="278" x2="1172.4" y2="282.5" stroke="#111" stroke-width="1.6" />
<text x="1173" y="299.4" font-size="17" text-anchor="middle" font-weight="normal" fill="#111" >30</text>
<line x1="870.72" y1="278" x2="870.72" y2="280.5" stroke="#111" stroke-width="1.4" />
<line x1="925.57" y1="278" x2="925.57" y2="280.5" stroke="#111" stroke-width="1.4" />
<line x1="980.42" y1="278" x2="980.42" y2="280.5" stroke="#111" stroke-width="1.4" />
<line x1="1035.28" y1="278" x2="1035.28" y2="280.5" stroke="#111" stroke-width="1.4" />
<line x1="1090.12" y1="278" x2="1090.12" y2="280.5" stroke="#111" stroke-width="1.4" />
<line x1="1144.97" y1="278" x2="1144.97" y2="280.5" stroke="#111" stroke-width="1.4" />
<text x="998.8" y="320.4" font-size="19.6" text-anchor="middle" font-weight="normal" fill="#111" >Time(min)</text>
<text transform="translate(813.6,143.1) rotate(-90)" font-size="19.7" text-anchor="middle" fill="#111">Temperature(°C)</text>
<text x="782.6" y="29" font-size="24.5" text-anchor="start" font-weight="bold" fill="#000" >(c)</text>
<line x1="1055.4" y1="50" x2="1055.4" y2="273" stroke="#222" stroke-width="1.6" stroke-dasharray="9,6"/>
<line x1="848" y1="251.7" x2="1050" y2="251.7" stroke="#111" stroke-width="1.6" />
<line x1="1060" y1="251.7" x2="1168" y2="251.7" stroke="#111" stroke-width="1.6" />
<path d="M843.5,251.7 L852,248.29999999999998 L852,255.1 Z" fill="#111"/>
<path d="M1054.5,251.7 L1046,248.29999999999998 L1046,255.1 Z" fill="#111"/>
<path d="M1056.3,251.7 L1064.8,248.29999999999998 L1064.8,255.1 Z" fill="#111"/>
<path d="M1172.5,251.7 L1164,248.29999999999998 L1164,255.1 Z" fill="#111"/>
<text x="877.4" y="239.8" font-size="13.8" text-anchor="start" font-weight="normal" fill="#111" >Temperature Change Period</text>
<text x="1079.3" y="239.3" font-size="13.5" text-anchor="start" font-weight="normal" fill="#111" >Stable Period</text>
<line x1="1069.2" y1="145.9" x2="1101.3" y2="145.9" stroke="#111111" stroke-width="2" />
<text x="1104.3" y="150.7" font-size="13.7" text-anchor="start" font-weight="normal" fill="#111" >Baseline</text>
<line x1="1069.2" y1="163.4" x2="1101.3" y2="163.4" stroke="#1a1aff" stroke-width="2" />
<text x="1104.3" y="168.2" font-size="13.7" text-anchor="start" font-weight="normal" fill="#111" >S3</text>
<line x1="1069.2" y1="180.5" x2="1101.3" y2="180.5" stroke="#22ee22" stroke-width="2" />
<text x="1104.3" y="185.3" font-size="13.7" text-anchor="start" font-weight="normal" fill="#111" >S2</text>
<line x1="1069.2" y1="197.4" x2="1101.3" y2="197.4" stroke="#ff1a1a" stroke-width="2" />
<text x="1104.3" y="202.2" font-size="13.7" text-anchor="start" font-weight="normal" fill="#111" >S1</text>
<rect x="75.5" y="339.7" width="339.3" height="272.8" fill="none" stroke="#111" stroke-width="2"/>
<line x1="70" y1="612.7" x2="75.5" y2="612.7" stroke="#111" stroke-width="1.6" />
<text x="66.2" y="617.9" font-size="17" text-anchor="end" font-weight="normal" fill="#111" >10</text>
<line x1="70" y1="558.1" x2="75.5" y2="558.1" stroke="#111" stroke-width="1.6" />
<text x="66.2" y="563.3" font-size="17" text-anchor="end" font-weight="normal" fill="#111" >12</text>
<line x1="70" y1="503.5" x2="75.5" y2="503.5" stroke="#111" stroke-width="1.6" />
<text x="66.2" y="508.7" font-size="17" text-anchor="end" font-weight="normal" fill="#111" >14</text>
<line x1="70" y1="448.9" x2="75.5" y2="448.9" stroke="#111" stroke-width="1.6" />
<text x="66.2" y="454.1" font-size="17" text-anchor="end" font-weight="normal" fill="#111" >16</text>
<line x1="70" y1="394.3" x2="75.5" y2="394.3" stroke="#111" stroke-width="1.6" />
<text x="66.2" y="399.5" font-size="17" text-anchor="end" font-weight="normal" fill="#111" >18</text>
<line x1="70" y1="339.7" x2="75.5" y2="339.7" stroke="#111" stroke-width="1.6" />
<text x="66.2" y="344.9" font-size="17" text-anchor="end" font-weight="normal" fill="#111" >20</text>
<line x1="73" y1="585.4" x2="75.5" y2="585.4" stroke="#111" stroke-width="1.4" />
<line x1="73" y1="530.8" x2="75.5" y2="530.8" stroke="#111" stroke-width="1.4" />
<line x1="73" y1="476.2" x2="75.5" y2="476.2" stroke="#111" stroke-width="1.4" />
<line x1="73" y1="421.6" x2="75.5" y2="421.6" stroke="#111" stroke-width="1.4" />
<line x1="73" y1="367" x2="75.5" y2="367" stroke="#111" stroke-width="1.4" />
<line x1="117.9" y1="612.5" x2="117.9" y2="617.5" stroke="#111" stroke-width="1.6" />
<text x="117.9" y="634.8" font-size="17" text-anchor="middle" font-weight="normal" fill="#111" >Baseline</text>
<line x1="202.5" y1="612.5" x2="202.5" y2="617.5" stroke="#111" stroke-width="1.6" />
<text x="202.5" y="634.8" font-size="17" text-anchor="middle" font-weight="normal" fill="#111" >S1</text>
<line x1="287.2" y1="612.5" x2="287.2" y2="617.5" stroke="#111" stroke-width="1.6" />
<text x="287.2" y="634.8" font-size="17" text-anchor="middle" font-weight="normal" fill="#111" >S2</text>
<line x1="371.8" y1="612.5" x2="371.8" y2="617.5" stroke="#111" stroke-width="1.6" />
<text x="371.8" y="634.8" font-size="17" text-anchor="middle" font-weight="normal" fill="#111" >S3</text>
<text x="244.4" y="653.3" font-size="20.7" text-anchor="middle" font-weight="normal" fill="#111" >Sample</text>
<text transform="translate(20.3,471.3) rotate(-90)" font-size="20" text-anchor="middle" fill="#111">Equivalent thermal</text>
<text transform="translate(48.3,470.5) rotate(-90)" font-size="20" text-anchor="middle" fill="#111">resistance(K/W)</text>
<text x="2.5" y="348.5" font-size="24" text-anchor="start" font-weight="bold" fill="#000" >(d)</text>
<rect x="112" y="424.7" width="11.8" height="11.2" fill="#5a72fb"/>
<circle cx="117.9" cy="458.8" r="6.6" fill="#fb3fa6"/>
<path d="M117.9,494.1 L125.8,507.5 L110,507.5 Z" fill="#9e3cfb"/>
<rect x="196.6" y="421.6" width="11.8" height="11.2" fill="#5a72fb"/>
<circle cx="202.5" cy="443.6" r="6.6" fill="#fb3fa6"/>
<path d="M202.5,482.7 L210.4,496.5 L194.6,496.5 Z" fill="#9e3cfb"/>
<rect x="281.3" y="394.5" width="11.8" height="11.2" fill="#5a72fb"/>
<circle cx="287.2" cy="436.9" r="6.6" fill="#fb3fa6"/>
<path d="M287.2,474.4 L295.1,489.8 L279.3,489.8 Z" fill="#9e3cfb"/>
<rect x="365.9" y="379.5" width="11.8" height="11.2" fill="#5a72fb"/>
<circle cx="371.8" cy="429.9" r="6.6" fill="#fb3fa6"/>
<path d="M371.8,471.5 L379.7,486.3 L363.9,486.3 Z" fill="#9e3cfb"/>
<line x1="117.9" y1="416.5" x2="117.9" y2="444.7" stroke="#5a72fb" stroke-width="1.3" />
<line x1="114.9" y1="416.5" x2="120.9" y2="416.5" stroke="#5a72fb" stroke-width="1.3" />
<line x1="114.9" y1="444.7" x2="120.9" y2="444.7" stroke="#5a72fb" stroke-width="1.3" />
<line x1="117.9" y1="445" x2="117.9" y2="472.6" stroke="#fb3fa6" stroke-width="1.3" />
<line x1="114.9" y1="445" x2="120.9" y2="445" stroke="#fb3fa6" stroke-width="1.3" />
<line x1="114.9" y1="472.6" x2="120.9" y2="472.6" stroke="#fb3fa6" stroke-width="1.3" />
<line x1="117.9" y1="489.5" x2="117.9" y2="517" stroke="#9e3cfb" stroke-width="1.3" />
<line x1="114.9" y1="489.5" x2="120.9" y2="489.5" stroke="#9e3cfb" stroke-width="1.3" />
<line x1="114.9" y1="517" x2="120.9" y2="517" stroke="#9e3cfb" stroke-width="1.3" />
<line x1="202.5" y1="413.4" x2="202.5" y2="440" stroke="#5a72fb" stroke-width="1.3" />
<line x1="199.5" y1="413.4" x2="205.5" y2="413.4" stroke="#5a72fb" stroke-width="1.3" />
<line x1="199.5" y1="440" x2="205.5" y2="440" stroke="#5a72fb" stroke-width="1.3" />
<line x1="202.5" y1="430" x2="202.5" y2="457.5" stroke="#fb3fa6" stroke-width="1.3" />
<line x1="199.5" y1="430" x2="205.5" y2="430" stroke="#fb3fa6" stroke-width="1.3" />
<line x1="199.5" y1="457.5" x2="205.5" y2="457.5" stroke="#fb3fa6" stroke-width="1.3" />
<line x1="202.5" y1="479" x2="202.5" y2="506" stroke="#9e3cfb" stroke-width="1.3" />
<line x1="199.5" y1="479" x2="205.5" y2="479" stroke="#9e3cfb" stroke-width="1.3" />
<line x1="199.5" y1="506" x2="205.5" y2="506" stroke="#9e3cfb" stroke-width="1.3" />
<line x1="287.2" y1="386.4" x2="287.2" y2="413.8" stroke="#5a72fb" stroke-width="1.3" />
<line x1="284.2" y1="386.4" x2="290.2" y2="386.4" stroke="#5a72fb" stroke-width="1.3" />
<line x1="284.2" y1="413.8" x2="290.2" y2="413.8" stroke="#5a72fb" stroke-width="1.3" />
<line x1="287.2" y1="423.5" x2="287.2" y2="450.5" stroke="#fb3fa6" stroke-width="1.3" />
<line x1="284.2" y1="423.5" x2="290.2" y2="423.5" stroke="#fb3fa6" stroke-width="1.3" />
<line x1="284.2" y1="450.5" x2="290.2" y2="450.5" stroke="#fb3fa6" stroke-width="1.3" />
<line x1="287.2" y1="471.4" x2="287.2" y2="498.8" stroke="#9e3cfb" stroke-width="1.3" />
<line x1="284.2" y1="471.4" x2="290.2" y2="471.4" stroke="#9e3cfb" stroke-width="1.3" />
<line x1="284.2" y1="498.8" x2="290.2" y2="498.8" stroke="#9e3cfb" stroke-width="1.3" />
<line x1="371.8" y1="371.4" x2="371.8" y2="398.8" stroke="#5a72fb" stroke-width="1.3" />
<line x1="368.8" y1="371.4" x2="374.8" y2="371.4" stroke="#5a72fb" stroke-width="1.3" />
<line x1="368.8" y1="398.8" x2="374.8" y2="398.8" stroke="#5a72fb" stroke-width="1.3" />
<line x1="371.8" y1="416.5" x2="371.8" y2="443.3" stroke="#fb3fa6" stroke-width="1.3" />
<line x1="368.8" y1="416.5" x2="374.8" y2="416.5" stroke="#fb3fa6" stroke-width="1.3" />
<line x1="368.8" y1="443.3" x2="374.8" y2="443.3" stroke="#fb3fa6" stroke-width="1.3" />
<line x1="371.8" y1="467.5" x2="371.8" y2="495.5" stroke="#9e3cfb" stroke-width="1.3" />
<line x1="368.8" y1="467.5" x2="374.8" y2="467.5" stroke="#9e3cfb" stroke-width="1.3" />
<line x1="368.8" y1="495.5" x2="374.8" y2="495.5" stroke="#9e3cfb" stroke-width="1.3" />
<rect x="330.7" y="530.6" width="11.7" height="11.3" fill="#5a72fb"/>
<circle cx="336.6" cy="554" r="6.6" fill="#fb3fa6"/>
<path d="M336.8,562.5 L344.8,576.3 L328.8,576.3 Z" fill="#9e3cfb"/>
<text x="356" y="541.1" font-size="14.3" text-anchor="start" font-weight="normal" fill="#111" >0.9W</text>
<text x="356" y="557.8" font-size="14.3" text-anchor="start" font-weight="normal" fill="#111" >1.6W</text>
<text x="356" y="575.3" font-size="14.3" text-anchor="start" font-weight="normal" fill="#111" >2.5W</text>
<line x1="572.8" y1="394.9" x2="572.8" y2="614" stroke="#333" stroke-width="1" />
<line x1="686.9" y1="392.6" x2="686.9" y2="614" stroke="#8a8a8a" stroke-width="1" />
<line x1="799.2" y1="391" x2="799.2" y2="614" stroke="#8a8a8a" stroke-width="1" />
<line x1="912.3" y1="392.6" x2="912.3" y2="614" stroke="#8a8a8a" stroke-width="1" />
<line x1="1023.6" y1="391.5" x2="1023.6" y2="614" stroke="#8a8a8a" stroke-width="1" />
<line x1="557.5" y1="409" x2="1141.2" y2="409" stroke="#999" stroke-width="1.2" />
<text x="623.4" y="401.5" font-size="15.4" text-anchor="middle" font-weight="normal" fill="#111" >Cycle1</text>
<text x="739.8" y="401.5" font-size="15.4" text-anchor="middle" font-weight="normal" fill="#111" >Cycle2</text>
<text x="852" y="401.5" font-size="15.4" text-anchor="middle" font-weight="normal" fill="#111" >Cycle3</text>
<text x="964" y="401.5" font-size="15.4" text-anchor="middle" font-weight="normal" fill="#111" >Cycle4</text>
<text x="1077.6" y="401.5" font-size="15.4" text-anchor="middle" font-weight="normal" fill="#111" >Cycle5</text>
<path d="M572.9,593.3 L573.33,585.55 L573.76,578.67 L574.19,572.54 L574.62,567.08 L575.05,562.21 L575.48,557.86 L575.91,553.96 L576.34,550.47 L576.77,547.32 L577.2,544.5 L577.63,541.94 L578.06,539.63 L578.49,537.53 L578.92,535.62 L579.35,533.88 L579.78,532.28 L580.21,530.81 L580.64,529.45 L581.07,528.19 L581.5,527.02 L581.93,525.93 L582.36,524.91 L582.79,523.94 L583.22,523.03 L583.65,522.16 L584.08,521.34 L584.51,520.55 L584.94,519.8 L585.37,519.07 L585.8,518.36 L586.23,517.68 L586.66,517.02 L587.09,516.37 L587.52,515.74 L587.95,515.12 L588.38,514.52 L588.81,513.92 L589.24,513.33 L589.67,512.75 L590.1,512.18 L590.53,511.61 L590.96,511.05 L591.39,510.5 L591.82,509.95 L592.25,509.4 L592.68,508.85 L593.11,508.31 L593.54,507.76 L593.97,507.18 L594.4,506.56 L594.83,505.91 L595.26,505.22 L595.69,504.49 L596.12,503.73 L596.55,502.94 L596.98,502.1 L597.41,501.23 L597.84,500.33 L598.27,499.38 L598.7,498.41 L599.13,497.39 L599.56,496.34 L599.99,495.25 L600.42,494.12 L600.85,492.95 L601.28,491.75 L601.71,490.52 L602.14,489.24 L602.57,487.93 L603,486.58 L603.56,496.89 L604.11,505.7 L604.67,513.25 L605.23,519.75 L605.79,525.37 L606.34,530.24 L606.9,534.48 L607.46,538.2 L608.02,541.47 L608.57,544.37 L609.13,546.94 L609.69,549.25 L610.25,551.34 L610.8,553.22 L611.36,554.95 L611.92,556.53 L612.47,557.99 L613.03,559.35 L613.59,560.61 L614.15,561.8 L614.7,562.92 L615.26,563.98 L615.82,564.99 L616.38,565.95 L616.93,566.87 L617.49,567.76 L618.05,568.61 L618.61,569.43 L619.16,570.22 L619.72,570.99 L620.28,571.73 L620.83,572.46 L621.39,573.16 L621.95,573.84 L622.51,574.51 L623.06,575.16 L623.62,575.79 L624.18,576.41 L624.74,577.01 L625.29,577.6 L625.85,578.17 L626.41,578.73 L626.97,579.28 L627.52,579.82 L628.08,580.34 L628.64,580.85 L629.19,581.36 L629.75,581.85 L630.31,582.33 L630.87,582.8 L631.42,583.26 L631.98,583.71 L632.54,584.15 L633.1,584.58 L633.65,585 L634.21,585.41 L634.77,585.82 L635.33,586.21 L635.88,586.6 L636.44,586.98 L637,587.35 L637.55,587.71 L638.11,588.07 L638.67,588.42 L639.23,588.76 L639.78,589.09 L640.34,589.42 L640.9,589.73 L641.46,590.05 L642.01,590.35 L642.57,590.65 L643.13,590.95 L643.69,591.23 L644.24,591.51 L644.8,591.79 L645.36,592.06 L645.91,592.32 L646.47,592.58 L647.03,592.83 L647.59,593.08 L648.14,593.32 L648.7,593.56 L649.26,593.79 L649.82,594.02 L650.37,594.24 L650.93,594.46 L651.49,594.67 L652.05,594.88 L652.6,595.08 L653.16,595.28 L653.72,595.48 L654.27,595.67 L654.83,595.86 L655.39,596.04 L655.95,596.22 L656.5,596.4 L657.06,596.57 L657.62,596.74 L658.18,596.9 L658.73,597.07 L659.29,597.22 L659.85,597.38 L660.41,597.53 L660.96,597.68 L661.52,597.82 L662.08,597.97 L662.63,598.1 L663.19,598.24 L663.75,598.37 L664.31,598.5 L664.86,598.63 L665.42,598.76 L665.98,598.88 L666.54,599 L667.09,599.12 L667.65,599.23 L668.21,599.34 L668.77,599.45 L669.32,599.56 L669.88,599.67 L670.44,599.77 L670.99,599.87 L671.55,599.97 L672.11,600.07 L672.67,600.16 L673.22,600.26 L673.78,600.35 L674.34,600.44 L674.9,600.52 L675.45,600.61 L676.01,600.69 L676.57,600.77 L677.13,600.85 L677.68,600.93 L678.24,601.01 L678.8,601.08 L679.35,601.16 L679.91,601.23 L680.47,601.3 L681.03,601.37 L681.58,601.44 L682.14,601.5 L682.7,601.57 L683.26,601.63 L683.81,601.69 L684.37,601.75 L684.93,601.81 L685.49,601.87 L686.04,601.93 L686.6,601.98 L686.6,601.98 L687.01,592.24 L687.43,583.53 L687.84,575.75 L688.25,568.79 L688.66,562.55 L689.08,556.95 L689.49,551.92 L689.9,547.39 L690.32,543.3 L690.73,539.61 L691.14,536.26 L691.55,533.23 L691.97,530.46 L692.38,527.94 L692.79,525.64 L693.21,523.52 L693.62,521.57 L694.03,519.77 L694.44,518.1 L694.86,516.55 L695.27,515.1 L695.68,513.74 L696.1,512.46 L696.51,511.25 L696.92,510.11 L697.33,509.02 L697.75,507.98 L698.16,506.99 L698.57,506.04 L698.99,505.12 L699.4,504.23 L699.81,503.36 L700.22,502.52 L700.64,501.71 L701.05,500.91 L701.46,500.13 L701.88,499.36 L702.29,498.6 L702.7,497.86 L703.11,497.13 L703.53,496.4 L703.94,495.69 L704.35,494.98 L704.77,494.28 L705.18,493.58 L705.59,492.89 L706,492.2 L706.42,491.52 L706.83,490.83 L707.24,490.15 L707.66,489.41 L708.07,488.64 L708.48,487.83 L708.89,486.97 L709.31,486.07 L709.72,485.12 L710.13,484.13 L710.55,483.1 L710.96,482.02 L711.37,480.9 L711.78,479.74 L712.2,478.53 L712.61,477.28 L713.02,475.98 L713.44,474.64 L713.85,473.25 L714.26,471.82 L714.67,470.34 L715.09,468.82 L715.5,467.26 L716.06,479.44 L716.61,489.86 L717.17,498.79 L717.73,506.48 L718.28,513.12 L718.84,518.88 L719.4,523.9 L719.95,528.3 L720.51,532.17 L721.07,535.6 L721.62,538.65 L722.18,541.38 L722.74,543.84 L723.29,546.08 L723.85,548.12 L724.41,549.99 L724.96,551.72 L725.52,553.33 L726.08,554.82 L726.63,556.23 L727.19,557.56 L727.75,558.81 L728.3,560.01 L728.86,561.14 L729.42,562.23 L729.97,563.28 L730.53,564.29 L731.09,565.26 L731.64,566.2 L732.2,567.1 L732.76,567.99 L733.31,568.84 L733.87,569.67 L734.43,570.48 L734.98,571.27 L735.54,572.03 L736.1,572.78 L736.65,573.51 L737.21,574.22 L737.77,574.92 L738.32,575.6 L738.88,576.26 L739.44,576.91 L739.99,577.55 L740.55,578.17 L741.11,578.78 L741.66,579.37 L742.22,579.95 L742.78,580.52 L743.33,581.08 L743.89,581.62 L744.45,582.15 L745,582.67 L745.56,583.18 L746.12,583.68 L746.67,584.17 L747.23,584.65 L747.79,585.12 L748.34,585.57 L748.9,586.02 L749.46,586.46 L750.01,586.89 L750.57,587.31 L751.13,587.72 L751.68,588.13 L752.24,588.52 L752.8,588.91 L753.35,589.29 L753.91,589.66 L754.47,590.02 L755.02,590.37 L755.58,590.72 L756.14,591.06 L756.69,591.39 L757.25,591.72 L757.81,592.04 L758.36,592.35 L758.92,592.66 L759.48,592.95 L760.03,593.25 L760.59,593.53 L761.15,593.81 L761.7,594.09 L762.26,594.36 L762.82,594.62 L763.37,594.88 L763.93,595.13 L764.49,595.38 L765.04,595.62 L765.6,595.86 L766.16,596.09 L766.71,596.32 L767.27,596.54 L767.83,596.76 L768.38,596.97 L768.94,597.18 L769.5,597.38 L770.05,597.58 L770.61,597.78 L771.17,597.97 L771.72,598.16 L772.28,598.34 L772.84,598.52 L773.39,598.69 L773.95,598.87 L774.51,599.03 L775.06,599.2 L775.62,599.36 L776.18,599.52 L776.73,599.67 L777.29,599.82 L777.85,599.97 L778.4,600.12 L778.96,600.26 L779.52,600.4 L780.07,600.54 L780.63,600.67 L781.19,600.8 L781.74,600.93 L782.3,601.05 L782.86,601.17 L783.41,601.29 L783.97,601.41 L784.53,601.53 L785.08,601.64 L785.64,601.75 L786.2,601.86 L786.75,601.96 L787.31,602.07 L787.87,602.17 L788.42,602.27 L788.98,602.36 L789.54,602.46 L790.09,602.55 L790.65,602.64 L791.21,602.73 L791.76,602.82 L792.32,602.9 L792.88,602.99 L793.43,603.07 L793.99,603.15 L794.55,603.23 L795.1,603.3 L795.66,603.38 L796.22,603.45 L796.77,603.52 L797.33,603.59 L797.89,603.66 L798.44,603.73 L799,603.8 L799,603.8 L799.41,594.13 L799.82,585.49 L800.23,577.76 L800.63,570.83 L801.04,564.61 L801.45,559.03 L801.86,554.01 L802.27,549.48 L802.68,545.39 L803.09,541.7 L803.49,538.35 L803.9,535.3 L804.31,532.53 L804.72,530 L805.13,527.69 L805.54,525.56 L805.95,523.6 L806.35,521.79 L806.76,520.11 L807.17,518.55 L807.58,517.09 L807.99,515.72 L808.4,514.44 L808.81,513.23 L809.21,512.08 L809.62,510.99 L810.03,509.95 L810.44,508.95 L810.85,507.99 L811.26,507.07 L811.67,506.18 L812.07,505.32 L812.48,504.48 L812.89,503.66 L813.3,502.86 L813.71,502.08 L814.12,501.32 L814.53,500.56 L814.93,499.82 L815.34,499.09 L815.75,498.37 L816.16,497.66 L816.57,496.95 L816.98,496.25 L817.39,495.56 L817.79,494.87 L818.2,494.19 L818.61,493.51 L819.02,492.83 L819.43,492.16 L819.84,491.46 L820.25,490.71 L820.65,489.93 L821.06,489.1 L821.47,488.23 L821.88,487.32 L822.29,486.36 L822.7,485.37 L823.11,484.33 L823.51,483.24 L823.92,482.12 L824.33,480.95 L824.74,479.73 L825.15,478.48 L825.56,477.18 L825.97,475.83 L826.37,474.44 L826.78,473.01 L827.19,471.54 L827.6,470.02 L828.16,482.33 L828.73,492.83 L829.29,501.82 L829.85,509.55 L830.41,516.21 L830.98,521.99 L831.54,527.01 L832.1,531.41 L832.66,535.28 L833.23,538.7 L833.79,541.75 L834.35,544.47 L834.91,546.93 L835.48,549.16 L836.04,551.19 L836.6,553.06 L837.17,554.78 L837.73,556.38 L838.29,557.88 L838.85,559.28 L839.42,560.61 L839.98,561.86 L840.54,563.05 L841.1,564.19 L841.67,565.28 L842.23,566.33 L842.79,567.33 L843.35,568.3 L843.92,569.24 L844.48,570.15 L845.04,571.03 L845.61,571.89 L846.17,572.72 L846.73,573.53 L847.29,574.32 L847.86,575.09 L848.42,575.84 L848.98,576.57 L849.54,577.28 L850.11,577.98 L850.67,578.66 L851.23,579.32 L851.79,579.97 L852.36,580.6 L852.92,581.23 L853.48,581.83 L854.05,582.43 L854.61,583.01 L855.17,583.57 L855.73,584.13 L856.3,584.67 L856.86,585.21 L857.42,585.73 L857.98,586.23 L858.55,586.73 L859.11,587.22 L859.67,587.7 L860.23,588.16 L860.8,588.62 L861.36,589.07 L861.92,589.51 L862.49,589.93 L863.05,590.35 L863.61,590.76 L864.17,591.16 L864.74,591.56 L865.3,591.94 L865.86,592.32 L866.42,592.69 L866.99,593.05 L867.55,593.4 L868.11,593.74 L868.67,594.08 L869.24,594.41 L869.8,594.74 L870.36,595.05 L870.93,595.36 L871.49,595.67 L872.05,595.96 L872.61,596.26 L873.18,596.54 L873.74,596.82 L874.3,597.09 L874.86,597.36 L875.43,597.62 L875.99,597.87 L876.55,598.12 L877.11,598.37 L877.68,598.61 L878.24,598.84 L878.8,599.07 L879.37,599.3 L879.93,599.52 L880.49,599.73 L881.05,599.94 L881.62,600.15 L882.18,600.35 L882.74,600.55 L883.3,600.74 L883.87,600.93 L884.43,601.11 L884.99,601.3 L885.55,601.47 L886.12,601.65 L886.68,601.82 L887.24,601.98 L887.81,602.15 L888.37,602.3 L888.93,602.46 L889.49,602.61 L890.06,602.76 L890.62,602.91 L891.18,603.05 L891.74,603.19 L892.31,603.33 L892.87,603.46 L893.43,603.59 L893.99,603.72 L894.56,603.85 L895.12,603.97 L895.68,604.09 L896.25,604.21 L896.81,604.32 L897.37,604.44 L897.93,604.55 L898.5,604.66 L899.06,604.76 L899.62,604.86 L900.18,604.97 L900.75,605.07 L901.31,605.16 L901.87,605.26 L902.43,605.35 L903,605.44 L903.56,605.53 L904.12,605.62 L904.69,605.7 L905.25,605.79 L905.81,605.87 L906.37,605.95 L906.94,606.03 L907.5,606.1 L908.06,606.18 L908.62,606.25 L909.19,606.32 L909.75,606.39 L910.31,606.46 L910.87,606.53 L911.44,606.6 L912,606.66 L912,606.66 L912.39,597.14 L912.78,588.59 L913.17,580.89 L913.55,573.96 L913.94,567.7 L914.33,562.06 L914.72,556.96 L915.11,552.34 L915.5,548.15 L915.89,544.35 L916.27,540.89 L916.66,537.74 L917.05,534.86 L917.44,532.22 L917.83,529.8 L918.22,527.57 L918.61,525.52 L918.99,523.61 L919.38,521.85 L919.77,520.21 L920.16,518.67 L920.55,517.23 L920.94,515.88 L921.33,514.61 L921.71,513.41 L922.1,512.26 L922.49,511.18 L922.88,510.14 L923.27,509.14 L923.66,508.19 L924.05,507.26 L924.43,506.37 L924.82,505.51 L925.21,504.67 L925.6,503.85 L925.99,503.06 L926.38,502.28 L926.77,501.51 L927.15,500.76 L927.54,500.02 L927.93,499.29 L928.32,498.58 L928.71,497.87 L929.1,497.17 L929.49,496.47 L929.87,495.79 L930.26,495.1 L930.65,494.43 L931.04,493.75 L931.43,493.08 L931.82,492.42 L932.21,491.76 L932.59,491.09 L932.98,490.38 L933.37,489.64 L933.76,488.86 L934.15,488.03 L934.54,487.17 L934.93,486.27 L935.31,485.33 L935.7,484.35 L936.09,483.33 L936.48,482.27 L936.87,481.16 L937.26,480.02 L937.65,478.84 L938.03,477.61 L938.42,476.35 L938.81,475.05 L939.2,473.7 L939.76,485.67 L940.32,495.88 L940.89,504.63 L941.45,512.15 L942.01,518.64 L942.57,524.26 L943.13,529.15 L943.7,533.43 L944.26,537.2 L944.82,540.53 L945.38,543.5 L945.94,546.16 L946.51,548.55 L947.07,550.72 L947.63,552.7 L948.19,554.52 L948.75,556.2 L949.32,557.76 L949.88,559.21 L950.44,560.58 L951,561.87 L951.56,563.09 L952.13,564.25 L952.69,565.36 L953.25,566.42 L953.81,567.44 L954.37,568.42 L954.94,569.36 L955.5,570.28 L956.06,571.16 L956.62,572.02 L957.18,572.85 L957.75,573.66 L958.31,574.45 L958.87,575.22 L959.43,575.97 L959.99,576.69 L960.56,577.41 L961.12,578.1 L961.68,578.78 L962.24,579.44 L962.8,580.09 L963.37,580.72 L963.93,581.34 L964.49,581.94 L965.05,582.53 L965.61,583.11 L966.18,583.68 L966.74,584.23 L967.3,584.77 L967.86,585.3 L968.42,585.82 L968.99,586.32 L969.55,586.82 L970.11,587.31 L970.67,587.78 L971.23,588.24 L971.8,588.7 L972.36,589.14 L972.92,589.58 L973.48,590.01 L974.04,590.42 L974.61,590.83 L975.17,591.23 L975.73,591.62 L976.29,592 L976.85,592.38 L977.42,592.75 L977.98,593.1 L978.54,593.46 L979.1,593.8 L979.66,594.14 L980.23,594.46 L980.79,594.79 L981.35,595.1 L981.91,595.41 L982.47,595.71 L983.04,596.01 L983.6,596.3 L984.16,596.58 L984.72,596.86 L985.28,597.13 L985.85,597.4 L986.41,597.66 L986.97,597.91 L987.53,598.16 L988.09,598.4 L988.66,598.64 L989.22,598.87 L989.78,599.1 L990.34,599.33 L990.9,599.55 L991.47,599.76 L992.03,599.97 L992.59,600.17 L993.15,600.38 L993.71,600.57 L994.28,600.76 L994.84,600.95 L995.4,601.14 L995.96,601.32 L996.52,601.49 L997.09,601.67 L997.65,601.84 L998.21,602 L998.77,602.16 L999.33,602.32 L999.9,602.48 L1000.46,602.63 L1001.02,602.78 L1001.58,602.92 L1002.14,603.07 L1002.71,603.21 L1003.27,603.34 L1003.83,603.48 L1004.39,603.61 L1004.95,603.73 L1005.52,603.86 L1006.08,603.98 L1006.64,604.1 L1007.2,604.22 L1007.76,604.33 L1008.33,604.45 L1008.89,604.56 L1009.45,604.67 L1010.01,604.77 L1010.57,604.87 L1011.14,604.98 L1011.7,605.07 L1012.26,605.17 L1012.82,605.27 L1013.38,605.36 L1013.95,605.45 L1014.51,605.54 L1015.07,605.62 L1015.63,605.71 L1016.19,605.79 L1016.76,605.87 L1017.32,605.95 L1017.88,606.03 L1018.44,606.11 L1019,606.18 L1019.57,606.26 L1020.13,606.33 L1020.69,606.4 L1021.25,606.47 L1021.81,606.53 L1022.38,606.6 L1022.94,606.66 L1023.5,606.73 L1023.5,606.73 L1023.91,597.32 L1024.32,588.9 L1024.73,581.37 L1025.13,574.62 L1025.54,568.57 L1025.95,563.13 L1026.36,558.24 L1026.77,553.83 L1027.18,549.86 L1027.59,546.26 L1027.99,542.99 L1028.4,540.03 L1028.81,537.33 L1029.22,534.87 L1029.63,532.61 L1030.04,530.54 L1030.45,528.63 L1030.85,526.87 L1031.26,525.24 L1031.67,523.72 L1032.08,522.3 L1032.49,520.97 L1032.9,519.72 L1033.31,518.53 L1033.71,517.42 L1034.12,516.35 L1034.53,515.34 L1034.94,514.37 L1035.35,513.44 L1035.76,512.54 L1036.17,511.67 L1036.57,510.83 L1036.98,510.01 L1037.39,509.22 L1037.8,508.44 L1038.21,507.68 L1038.62,506.93 L1039.03,506.2 L1039.43,505.48 L1039.84,504.77 L1040.25,504.07 L1040.66,503.37 L1041.07,502.69 L1041.48,502.01 L1041.89,501.33 L1042.29,500.66 L1042.7,499.99 L1043.11,499.33 L1043.52,498.67 L1043.93,498.02 L1044.34,497.33 L1044.75,496.61 L1045.15,495.85 L1045.56,495.04 L1045.97,494.19 L1046.38,493.31 L1046.79,492.38 L1047.2,491.4 L1047.61,490.39 L1048.01,489.34 L1048.42,488.24 L1048.83,487.1 L1049.24,485.92 L1049.65,484.69 L1050.06,483.43 L1050.47,482.12 L1050.87,480.77 L1051.28,479.38 L1051.69,477.94 L1052.1,476.46 L1052.73,489.66 L1053.36,500.72 L1053.99,510.02 L1054.62,517.89 L1055.25,524.57 L1055.88,530.27 L1056.51,535.17 L1057.14,539.42 L1057.77,543.12 L1058.4,546.36 L1059.03,549.24 L1059.66,551.8 L1060.29,554.11 L1060.92,556.19 L1061.55,558.1 L1062.18,559.85 L1062.81,561.47 L1063.44,562.98 L1064.07,564.4 L1064.7,565.74 L1065.33,567 L1065.96,568.2 L1066.59,569.35 L1067.22,570.44 L1067.85,571.5 L1068.48,572.51 L1069.11,573.49 L1069.74,574.44 L1070.37,575.35 L1071,576.24 L1071.63,577.1 L1072.26,577.94 L1072.89,578.75 L1073.52,579.54 L1074.15,580.31 L1074.78,581.06 L1075.41,581.79 L1076.04,582.5 L1076.67,583.2 L1077.3,583.87 L1077.93,584.53 L1078.56,585.18 L1079.19,585.8 L1079.82,586.42 L1080.45,587.01 L1081.08,587.6 L1081.71,588.17 L1082.34,588.72 L1082.97,589.26 L1083.6,589.79 L1084.23,590.31 L1084.86,590.81 L1085.49,591.3 L1086.12,591.78 L1086.75,592.25 L1087.38,592.71 L1088.01,593.15 L1088.64,593.59 L1089.27,594.02 L1089.9,594.43 L1090.53,594.84 L1091.16,595.23 L1091.79,595.62 L1092.42,596 L1093.05,596.36 L1093.68,596.72 L1094.31,597.07 L1094.94,597.42 L1095.57,597.75 L1096.2,598.08 L1096.83,598.39 L1097.46,598.71 L1098.09,599.01 L1098.72,599.31 L1099.35,599.6 L1099.98,599.88 L1100.61,600.15 L1101.24,600.42 L1101.87,600.69 L1102.5,600.94 L1103.13,601.19 L1103.76,601.44 L1104.39,601.68 L1105.02,601.91 L1105.65,602.14 L1106.28,602.36 L1106.91,602.57 L1107.54,602.79 L1108.17,602.99 L1108.8,603.19 L1109.43,603.39 L1110.06,603.58 L1110.69,603.77 L1111.32,603.95 L1111.95,604.13 L1112.58,604.31 L1113.21,604.48 L1113.84,604.64 L1114.47,604.81 L1115.1,604.96 L1115.73,605.12 L1116.36,605.27 L1116.99,605.42 L1117.62,605.56 L1118.25,605.7 L1118.88,605.84 L1119.51,605.97 L1120.14,606.1 L1120.77,606.23 L1121.4,606.36 L1122.03,606.48 L1122.66,606.6 L1123.29,606.71 L1123.92,606.83 L1124.55,606.94 L1125.18,607.04 L1125.81,607.15 L1126.44,607.25 L1127.07,607.35 L1127.7,607.45 L1128.33,607.55 L1128.96,607.64 L1129.59,607.73 L1130.22,607.82 L1130.85,607.91 L1131.48,607.99 L1132.11,608.07 L1132.74,608.15 L1133.37,608.23 L1134,608.31 L1134.63,608.39 L1135.26,608.46 L1135.89,608.53 L1136.52,608.6 L1137.15,608.67 L1137.78,608.74 L1138.41,608.8 L1139.04,608.86 L1139.67,608.93 L1140.3,608.99 L1140.93,609.05 L1141.56,609.1 L1142.19,609.16 L1142.82,609.21 L1143.45,609.27 L1144.08,609.32 L1144.71,609.37 L1145.34,609.42 L1145.97,609.47 L1146.6,609.52" fill="none" stroke="#5b6ef3" stroke-width="2.5" stroke-linejoin="round" stroke-linecap="round" />
<path d="M572.9,590.08 L573.33,581 L573.76,572.6 L574.19,564.83 L574.62,557.64 L575.05,550.99 L575.48,544.83 L575.91,539.14 L576.34,533.86 L576.77,528.98 L577.2,524.45 L577.63,520.27 L578.06,516.38 L578.49,512.79 L578.92,509.46 L579.35,506.36 L579.78,503.5 L580.21,500.84 L580.64,498.37 L581.07,496.08 L581.5,493.96 L581.93,491.98 L582.36,490.14 L582.79,488.44 L583.22,486.85 L583.65,485.37 L584.08,483.99 L584.51,482.71 L584.94,481.51 L585.37,480.4 L585.8,479.36 L586.23,478.38 L586.66,477.47 L587.09,476.62 L587.52,475.82 L587.95,475.07 L588.38,474.37 L588.81,473.71 L589.24,473.09 L589.67,472.5 L590.1,471.95 L590.53,471.43 L590.96,470.94 L591.39,470.47 L591.82,470.03 L592.25,469.61 L592.68,469.22 L593.11,468.84 L593.54,468.48 L593.97,468.13 L594.4,467.8 L594.83,467.49 L595.26,467.18 L595.69,466.89 L596.12,466.62 L596.55,466.35 L596.98,466.09 L597.41,465.84 L597.84,465.59 L598.27,465.36 L598.7,465.13 L599.13,464.91 L599.56,464.69 L599.99,464.48 L600.42,464.27 L600.85,464.07 L601.28,463.87 L601.71,463.68 L602.14,463.49 L602.57,463.3 L603,463.12 L603.56,473.34 L604.11,482.7 L604.67,491.28 L605.23,499.15 L605.79,506.36 L606.34,512.97 L606.9,519.03 L607.46,524.6 L608.02,529.71 L608.57,534.4 L609.13,538.72 L609.69,542.68 L610.25,546.32 L610.8,549.68 L611.36,552.76 L611.92,555.61 L612.47,558.22 L613.03,560.64 L613.59,562.87 L614.15,564.92 L614.7,566.83 L615.26,568.58 L615.82,570.21 L616.38,571.72 L616.93,573.11 L617.49,574.41 L618.05,575.61 L618.61,576.73 L619.16,577.78 L619.72,578.75 L620.28,579.65 L620.83,580.5 L621.39,581.29 L621.95,582.03 L622.51,582.72 L623.06,583.37 L623.62,583.98 L624.18,584.56 L624.74,585.1 L625.29,585.61 L625.85,586.1 L626.41,586.56 L626.97,586.99 L627.52,587.4 L628.08,587.79 L628.64,588.17 L629.19,588.52 L629.75,588.86 L630.31,589.18 L630.87,589.49 L631.42,589.79 L631.98,590.08 L632.54,590.35 L633.1,590.61 L633.65,590.87 L634.21,591.11 L634.77,591.35 L635.33,591.58 L635.88,591.8 L636.44,592.01 L637,592.22 L637.55,592.42 L638.11,592.62 L638.67,592.81 L639.23,592.99 L639.78,593.17 L640.34,593.35 L640.9,593.52 L641.46,593.68 L642.01,593.85 L642.57,594 L643.13,594.16 L643.69,594.31 L644.24,594.46 L644.8,594.6 L645.36,594.75 L645.91,594.89 L646.47,595.02 L647.03,595.16 L647.59,595.29 L648.14,595.42 L648.7,595.54 L649.26,595.67 L649.82,595.79 L650.37,595.91 L650.93,596.02 L651.49,596.14 L652.05,596.25 L652.6,596.36 L653.16,596.47 L653.72,596.58 L654.27,596.68 L654.83,596.79 L655.39,596.89 L655.95,596.99 L656.5,597.09 L657.06,597.19 L657.62,597.28 L658.18,597.38 L658.73,597.47 L659.29,597.56 L659.85,597.65 L660.41,597.74 L660.96,597.82 L661.52,597.91 L662.08,597.99 L662.63,598.07 L663.19,598.16 L663.75,598.24 L664.31,598.31 L664.86,598.39 L665.42,598.47 L665.98,598.54 L666.54,598.62 L667.09,598.69 L667.65,598.76 L668.21,598.83 L668.77,598.9 L669.32,598.97 L669.88,599.04 L670.44,599.1 L670.99,599.17 L671.55,599.23 L672.11,599.3 L672.67,599.36 L673.22,599.42 L673.78,599.48 L674.34,599.54 L674.9,599.6 L675.45,599.66 L676.01,599.71 L676.57,599.77 L677.13,599.83 L677.68,599.88 L678.24,599.93 L678.8,599.99 L679.35,600.04 L679.91,600.09 L680.47,600.14 L681.03,600.19 L681.58,600.24 L682.14,600.29 L682.7,600.33 L683.26,600.38 L683.81,600.43 L684.37,600.47 L684.93,600.52 L685.49,600.56 L686.04,600.6 L686.6,600.65 L686.6,600.65 L687.01,590.22 L687.43,580.55 L687.84,571.57 L688.25,563.24 L688.66,555.51 L689.08,548.33 L689.49,541.67 L689.9,535.48 L690.32,529.73 L690.73,524.39 L691.14,519.43 L691.55,514.82 L691.97,510.53 L692.38,506.55 L692.79,502.84 L693.21,499.4 L693.62,496.19 L694.03,493.21 L694.44,490.43 L694.86,487.84 L695.27,485.43 L695.68,483.19 L696.1,481.09 L696.51,479.14 L696.92,477.31 L697.33,475.61 L697.75,474.02 L698.16,472.54 L698.57,471.14 L698.99,469.84 L699.4,468.63 L699.81,467.48 L700.22,466.41 L700.64,465.41 L701.05,464.46 L701.46,463.58 L701.88,462.74 L702.29,461.95 L702.7,461.21 L703.11,460.51 L703.53,459.85 L703.94,459.22 L704.35,458.63 L704.77,458.07 L705.18,457.53 L705.59,457.03 L706,456.54 L706.42,456.08 L706.83,455.65 L707.24,455.23 L707.66,454.82 L708.07,454.44 L708.48,454.07 L708.89,453.71 L709.31,453.37 L709.72,453.04 L710.13,452.73 L710.55,452.42 L710.96,452.12 L711.37,451.83 L711.78,451.55 L712.2,451.28 L712.61,451.01 L713.02,450.76 L713.44,450.5 L713.85,450.26 L714.26,450.02 L714.67,449.78 L715.09,449.55 L715.5,449.32 L716.06,460.7 L716.61,471.13 L717.17,480.68 L717.73,489.44 L718.28,497.47 L718.84,504.84 L719.4,511.6 L719.95,517.8 L720.51,523.49 L721.07,528.72 L721.62,533.53 L722.18,537.95 L722.74,542.01 L723.29,545.75 L723.85,549.19 L724.41,552.36 L724.96,555.28 L725.52,557.97 L726.08,560.46 L726.63,562.75 L727.19,564.88 L727.75,566.84 L728.3,568.65 L728.86,570.33 L729.42,571.89 L729.97,573.34 L730.53,574.68 L731.09,575.93 L731.64,577.09 L732.2,578.18 L732.76,579.19 L733.31,580.13 L733.87,581.01 L734.43,581.84 L734.98,582.61 L735.54,583.34 L736.1,584.02 L736.65,584.67 L737.21,585.27 L737.77,585.84 L738.32,586.38 L738.88,586.9 L739.44,587.38 L739.99,587.84 L740.55,588.28 L741.11,588.69 L741.66,589.09 L742.22,589.47 L742.78,589.83 L743.33,590.18 L743.89,590.51 L744.45,590.83 L745,591.13 L745.56,591.43 L746.12,591.71 L746.67,591.98 L747.23,592.25 L747.79,592.5 L748.34,592.75 L748.9,592.99 L749.46,593.22 L750.01,593.44 L750.57,593.66 L751.13,593.87 L751.68,594.08 L752.24,594.28 L752.8,594.47 L753.35,594.66 L753.91,594.85 L754.47,595.03 L755.02,595.21 L755.58,595.38 L756.14,595.55 L756.69,595.72 L757.25,595.88 L757.81,596.04 L758.36,596.19 L758.92,596.34 L759.48,596.49 L760.03,596.64 L760.59,596.78 L761.15,596.92 L761.7,597.06 L762.26,597.2 L762.82,597.33 L763.37,597.46 L763.93,597.59 L764.49,597.72 L765.04,597.84 L765.6,597.96 L766.16,598.08 L766.71,598.2 L767.27,598.31 L767.83,598.43 L768.38,598.54 L768.94,598.65 L769.5,598.76 L770.05,598.86 L770.61,598.97 L771.17,599.07 L771.72,599.17 L772.28,599.27 L772.84,599.37 L773.39,599.47 L773.95,599.56 L774.51,599.66 L775.06,599.75 L775.62,599.84 L776.18,599.93 L776.73,600.02 L777.29,600.1 L777.85,600.19 L778.4,600.27 L778.96,600.35 L779.52,600.44 L780.07,600.52 L780.63,600.59 L781.19,600.67 L781.74,600.75 L782.3,600.82 L782.86,600.9 L783.41,600.97 L783.97,601.04 L784.53,601.11 L785.08,601.18 L785.64,601.25 L786.2,601.32 L786.75,601.39 L787.31,601.45 L787.87,601.52 L788.42,601.58 L788.98,601.64 L789.54,601.7 L790.09,601.76 L790.65,601.82 L791.21,601.88 L791.76,601.94 L792.32,602 L792.88,602.05 L793.43,602.11 L793.99,602.16 L794.55,602.22 L795.1,602.27 L795.66,602.32 L796.22,602.37 L796.77,602.42 L797.33,602.47 L797.89,602.52 L798.44,602.57 L799,602.62 L799,602.62 L799.41,592.51 L799.82,583.11 L800.23,574.39 L800.63,566.29 L801.04,558.76 L801.45,551.77 L801.86,545.27 L802.27,539.24 L802.68,533.62 L803.09,528.41 L803.49,523.55 L803.9,519.04 L804.31,514.85 L804.72,510.94 L805.13,507.31 L805.54,503.93 L805.95,500.78 L806.35,497.84 L806.76,495.11 L807.17,492.56 L807.58,490.19 L807.99,487.98 L808.4,485.91 L808.81,483.98 L809.21,482.18 L809.62,480.5 L810.03,478.92 L810.44,477.45 L810.85,476.08 L811.26,474.79 L811.67,473.58 L812.07,472.45 L812.48,471.38 L812.89,470.39 L813.3,469.45 L813.71,468.57 L814.12,467.74 L814.53,466.95 L814.93,466.21 L815.34,465.52 L815.75,464.86 L816.16,464.24 L816.57,463.64 L816.98,463.08 L817.39,462.55 L817.79,462.05 L818.2,461.57 L818.61,461.11 L819.02,460.67 L819.43,460.25 L819.84,459.85 L820.25,459.47 L820.65,459.1 L821.06,458.75 L821.47,458.41 L821.88,458.08 L822.29,457.76 L822.7,457.46 L823.11,457.16 L823.51,456.87 L823.92,456.59 L824.33,456.32 L824.74,456.06 L825.15,455.8 L825.56,455.55 L825.97,455.31 L826.37,455.07 L826.78,454.83 L827.19,454.61 L827.6,454.38 L828.16,465.67 L828.73,476.01 L829.29,485.48 L829.85,494.15 L830.41,502.09 L830.98,509.36 L831.54,516.04 L832.1,522.15 L832.66,527.76 L833.23,532.91 L833.79,537.64 L834.35,541.98 L834.91,545.97 L835.48,549.64 L836.04,553.01 L836.6,556.11 L837.17,558.97 L837.73,561.61 L838.29,564.03 L838.85,566.28 L839.42,568.35 L839.98,570.26 L840.54,572.03 L841.1,573.66 L841.67,575.18 L842.23,576.59 L842.79,577.9 L843.35,579.11 L843.92,580.24 L844.48,581.29 L845.04,582.27 L845.61,583.19 L846.17,584.04 L846.73,584.85 L847.29,585.6 L847.86,586.3 L848.42,586.96 L848.98,587.59 L849.54,588.17 L850.11,588.73 L850.67,589.25 L851.23,589.75 L851.79,590.22 L852.36,590.66 L852.92,591.09 L853.48,591.49 L854.05,591.87 L854.61,592.24 L855.17,592.59 L855.73,592.93 L856.3,593.25 L856.86,593.56 L857.42,593.86 L857.98,594.14 L858.55,594.42 L859.11,594.68 L859.67,594.94 L860.23,595.19 L860.8,595.43 L861.36,595.66 L861.92,595.88 L862.49,596.1 L863.05,596.31 L863.61,596.52 L864.17,596.72 L864.74,596.92 L865.3,597.11 L865.86,597.29 L866.42,597.47 L866.99,597.65 L867.55,597.82 L868.11,597.99 L868.67,598.16 L869.24,598.32 L869.8,598.48 L870.36,598.63 L870.93,598.78 L871.49,598.93 L872.05,599.08 L872.61,599.22 L873.18,599.36 L873.74,599.5 L874.3,599.63 L874.86,599.77 L875.43,599.9 L875.99,600.02 L876.55,600.15 L877.11,600.27 L877.68,600.39 L878.24,600.51 L878.8,600.63 L879.37,600.74 L879.93,600.86 L880.49,600.97 L881.05,601.08 L881.62,601.18 L882.18,601.29 L882.74,601.39 L883.3,601.5 L883.87,601.6 L884.43,601.7 L884.99,601.79 L885.55,601.89 L886.12,601.98 L886.68,602.08 L887.24,602.17 L887.81,602.26 L888.37,602.35 L888.93,602.43 L889.49,602.52 L890.06,602.6 L890.62,602.69 L891.18,602.77 L891.74,602.85 L892.31,602.93 L892.87,603 L893.43,603.08 L893.99,603.16 L894.56,603.23 L895.12,603.3 L895.68,603.38 L896.25,603.45 L896.81,603.52 L897.37,603.59 L897.93,603.65 L898.5,603.72 L899.06,603.79 L899.62,603.85 L900.18,603.91 L900.75,603.98 L901.31,604.04 L901.87,604.1 L902.43,604.16 L903,604.22 L903.56,604.28 L904.12,604.33 L904.69,604.39 L905.25,604.44 L905.81,604.5 L906.37,604.55 L906.94,604.61 L907.5,604.66 L908.06,604.71 L908.62,604.76 L909.19,604.81 L909.75,604.86 L910.31,604.91 L910.87,604.95 L911.44,605 L912,605.05 L912,605.05 L912.39,595.59 L912.78,586.78 L913.17,578.56 L913.55,570.9 L913.94,563.76 L914.33,557.1 L914.72,550.89 L915.11,545.1 L915.5,539.7 L915.89,534.66 L916.27,529.95 L916.66,525.56 L917.05,521.46 L917.44,517.64 L917.83,514.06 L918.22,510.72 L918.61,507.6 L918.99,504.69 L919.38,501.96 L919.77,499.42 L920.16,497.03 L920.55,494.8 L920.94,492.71 L921.33,490.76 L921.71,488.93 L922.1,487.21 L922.49,485.6 L922.88,484.09 L923.27,482.68 L923.66,481.35 L924.05,480.1 L924.43,478.92 L924.82,477.82 L925.21,476.78 L925.6,475.8 L925.99,474.87 L926.38,474 L926.77,473.18 L927.15,472.4 L927.54,471.67 L927.93,470.97 L928.32,470.31 L928.71,469.69 L929.1,469.09 L929.49,468.53 L929.87,467.99 L930.26,467.48 L930.65,466.99 L931.04,466.53 L931.43,466.08 L931.82,465.66 L932.21,465.25 L932.59,464.86 L932.98,464.48 L933.37,464.12 L933.76,463.78 L934.15,463.44 L934.54,463.12 L934.93,462.81 L935.31,462.5 L935.7,462.21 L936.09,461.93 L936.48,461.65 L936.87,461.38 L937.26,461.12 L937.65,460.86 L938.03,460.61 L938.42,460.37 L938.81,460.13 L939.2,459.9 L939.76,470.88 L940.32,480.93 L940.89,490.13 L941.45,498.56 L942.01,506.28 L942.57,513.35 L943.13,519.84 L943.7,525.79 L944.26,531.25 L944.82,536.26 L945.38,540.86 L945.94,545.08 L946.51,548.96 L947.07,552.53 L947.63,555.82 L948.19,558.84 L948.75,561.62 L949.32,564.18 L949.88,566.55 L950.44,568.73 L951,570.75 L951.56,572.61 L952.13,574.33 L952.69,575.93 L953.25,577.4 L953.81,578.78 L954.37,580.05 L954.94,581.23 L955.5,582.33 L956.06,583.36 L956.62,584.31 L957.18,585.2 L957.75,586.04 L958.31,586.82 L958.87,587.55 L959.43,588.24 L959.99,588.88 L960.56,589.49 L961.12,590.06 L961.68,590.6 L962.24,591.11 L962.8,591.6 L963.37,592.05 L963.93,592.49 L964.49,592.9 L965.05,593.29 L965.61,593.67 L966.18,594.03 L966.74,594.37 L967.3,594.7 L967.86,595.01 L968.42,595.31 L968.99,595.6 L969.55,595.88 L970.11,596.15 L970.67,596.4 L971.23,596.65 L971.8,596.9 L972.36,597.13 L972.92,597.36 L973.48,597.58 L974.04,597.79 L974.61,597.99 L975.17,598.2 L975.73,598.39 L976.29,598.58 L976.85,598.77 L977.42,598.95 L977.98,599.12 L978.54,599.3 L979.1,599.47 L979.66,599.63 L980.23,599.79 L980.79,599.95 L981.35,600.1 L981.91,600.25 L982.47,600.4 L983.04,600.55 L983.6,600.69 L984.16,600.83 L984.72,600.96 L985.28,601.1 L985.85,601.23 L986.41,601.36 L986.97,601.48 L987.53,601.61 L988.09,601.73 L988.66,601.85 L989.22,601.97 L989.78,602.08 L990.34,602.2 L990.9,602.31 L991.47,602.42 L992.03,602.53 L992.59,602.63 L993.15,602.74 L993.71,602.84 L994.28,602.94 L994.84,603.04 L995.4,603.14 L995.96,603.23 L996.52,603.33 L997.09,603.42 L997.65,603.51 L998.21,603.6 L998.77,603.69 L999.33,603.78 L999.9,603.87 L1000.46,603.95 L1001.02,604.04 L1001.58,604.12 L1002.14,604.2 L1002.71,604.28 L1003.27,604.36 L1003.83,604.43 L1004.39,604.51 L1004.95,604.58 L1005.52,604.66 L1006.08,604.73 L1006.64,604.8 L1007.2,604.87 L1007.76,604.94 L1008.33,605.01 L1008.89,605.08 L1009.45,605.14 L1010.01,605.21 L1010.57,605.27 L1011.14,605.33 L1011.7,605.4 L1012.26,605.46 L1012.82,605.52 L1013.38,605.58 L1013.95,605.63 L1014.51,605.69 L1015.07,605.75 L1015.63,605.8 L1016.19,605.86 L1016.76,605.91 L1017.32,605.97 L1017.88,606.02 L1018.44,606.07 L1019,606.12 L1019.57,606.17 L1020.13,606.22 L1020.69,606.27 L1021.25,606.32 L1021.81,606.36 L1022.38,606.41 L1022.94,606.45 L1023.5,606.5 L1023.5,606.5 L1023.91,595.68 L1024.32,585.64 L1024.73,576.31 L1025.13,567.64 L1025.54,559.59 L1025.95,552.11 L1026.36,545.16 L1026.77,538.7 L1027.18,532.7 L1027.59,527.12 L1027.99,521.93 L1028.4,517.1 L1028.81,512.62 L1029.22,508.44 L1029.63,504.55 L1030.04,500.93 L1030.45,497.57 L1030.85,494.43 L1031.26,491.51 L1031.67,488.78 L1032.08,486.24 L1032.49,483.87 L1032.9,481.66 L1033.31,479.6 L1033.71,477.68 L1034.12,475.88 L1034.53,474.19 L1034.94,472.62 L1035.35,471.15 L1035.76,469.77 L1036.17,468.48 L1036.57,467.26 L1036.98,466.13 L1037.39,465.06 L1037.8,464.06 L1038.21,463.11 L1038.62,462.23 L1039.03,461.39 L1039.43,460.6 L1039.84,459.85 L1040.25,459.15 L1040.66,458.48 L1041.07,457.85 L1041.48,457.25 L1041.89,456.68 L1042.29,456.14 L1042.7,455.63 L1043.11,455.14 L1043.52,454.67 L1043.93,454.22 L1044.34,453.79 L1044.75,453.38 L1045.15,452.99 L1045.56,452.61 L1045.97,452.25 L1046.38,451.9 L1046.79,451.56 L1047.2,451.23 L1047.61,450.91 L1048.01,450.61 L1048.42,450.31 L1048.83,450.02 L1049.24,449.74 L1049.65,449.46 L1050.06,449.19 L1050.47,448.93 L1050.87,448.68 L1051.28,448.43 L1051.69,448.18 L1052.1,447.94 L1052.73,461.27 L1053.36,473.35 L1053.99,484.29 L1054.62,494.21 L1055.25,503.2 L1055.88,511.36 L1056.51,518.76 L1057.14,525.47 L1057.77,531.58 L1058.4,537.12 L1059.03,542.16 L1059.66,546.75 L1060.29,550.92 L1060.92,554.73 L1061.55,558.19 L1062.18,561.36 L1062.81,564.25 L1063.44,566.89 L1064.07,569.3 L1064.7,571.51 L1065.33,573.54 L1065.96,575.4 L1066.59,577.11 L1067.22,578.68 L1067.85,580.13 L1068.48,581.46 L1069.11,582.7 L1069.74,583.84 L1070.37,584.9 L1071,585.88 L1071.63,586.79 L1072.26,587.64 L1072.89,588.43 L1073.52,589.17 L1074.15,589.86 L1074.78,590.51 L1075.41,591.12 L1076.04,591.69 L1076.67,592.23 L1077.3,592.74 L1077.93,593.22 L1078.56,593.68 L1079.19,594.11 L1079.82,594.52 L1080.45,594.92 L1081.08,595.29 L1081.71,595.65 L1082.34,595.99 L1082.97,596.32 L1083.6,596.64 L1084.23,596.94 L1084.86,597.24 L1085.49,597.52 L1086.12,597.79 L1086.75,598.05 L1087.38,598.31 L1088.01,598.55 L1088.64,598.79 L1089.27,599.02 L1089.9,599.25 L1090.53,599.47 L1091.16,599.68 L1091.79,599.89 L1092.42,600.09 L1093.05,600.29 L1093.68,600.48 L1094.31,600.67 L1094.94,600.85 L1095.57,601.03 L1096.2,601.21 L1096.83,601.38 L1097.46,601.55 L1098.09,601.71 L1098.72,601.87 L1099.35,602.03 L1099.98,602.18 L1100.61,602.33 L1101.24,602.48 L1101.87,602.63 L1102.5,602.77 L1103.13,602.91 L1103.76,603.05 L1104.39,603.18 L1105.02,603.31 L1105.65,603.44 L1106.28,603.57 L1106.91,603.69 L1107.54,603.82 L1108.17,603.94 L1108.8,604.05 L1109.43,604.17 L1110.06,604.28 L1110.69,604.39 L1111.32,604.5 L1111.95,604.61 L1112.58,604.72 L1113.21,604.82 L1113.84,604.92 L1114.47,605.02 L1115.1,605.12 L1115.73,605.22 L1116.36,605.31 L1116.99,605.41 L1117.62,605.5 L1118.25,605.59 L1118.88,605.68 L1119.51,605.77 L1120.14,605.85 L1120.77,605.94 L1121.4,606.02 L1122.03,606.1 L1122.66,606.18 L1123.29,606.26 L1123.92,606.34 L1124.55,606.41 L1125.18,606.49 L1125.81,606.56 L1126.44,606.63 L1127.07,606.7 L1127.7,606.77 L1128.33,606.84 L1128.96,606.91 L1129.59,606.97 L1130.22,607.04 L1130.85,607.1 L1131.48,607.17 L1132.11,607.23 L1132.74,607.29 L1133.37,607.35 L1134,607.41 L1134.63,607.46 L1135.26,607.52 L1135.89,607.58 L1136.52,607.63 L1137.15,607.68 L1137.78,607.74 L1138.41,607.79 L1139.04,607.84 L1139.67,607.89 L1140.3,607.94 L1140.93,607.99 L1141.56,608.04 L1142.19,608.08 L1142.82,608.13 L1143.45,608.17 L1144.08,608.22 L1144.71,608.26 L1145.34,608.31 L1145.97,608.35 L1146.6,608.39" fill="none" stroke="#f5812a" stroke-width="2.5" stroke-linejoin="round" stroke-linecap="round" />
<rect x="515.3" y="339.3" width="680.2" height="274.7" fill="none" stroke="#111" stroke-width="2"/>
<line x1="509.8" y1="614" x2="515.3" y2="614" stroke="#111" stroke-width="1.6" />
<text x="505.7" y="620" font-size="18.6" text-anchor="end" font-weight="normal" fill="#111" >20</text>
<line x1="509.8" y1="568" x2="515.3" y2="568" stroke="#111" stroke-width="1.6" />
<text x="505.7" y="574" font-size="18.6" text-anchor="end" font-weight="normal" fill="#111" >30</text>
<line x1="509.8" y1="522" x2="515.3" y2="522" stroke="#111" stroke-width="1.6" />
<text x="505.7" y="528" font-size="18.6" text-anchor="end" font-weight="normal" fill="#111" >40</text>
<line x1="509.8" y1="476" x2="515.3" y2="476" stroke="#111" stroke-width="1.6" />
<text x="505.7" y="482" font-size="18.6" text-anchor="end" font-weight="normal" fill="#111" >50</text>
<line x1="509.8" y1="430" x2="515.3" y2="430" stroke="#111" stroke-width="1.6" />
<text x="505.7" y="436" font-size="18.6" text-anchor="end" font-weight="normal" fill="#111" >60</text>
<line x1="509.8" y1="384" x2="515.3" y2="384" stroke="#111" stroke-width="1.6" />
<text x="505.7" y="390" font-size="18.6" text-anchor="end" font-weight="normal" fill="#111" >70</text>
<line x1="509.8" y1="338" x2="515.3" y2="338" stroke="#111" stroke-width="1.6" />
<text x="505.7" y="344" font-size="18.6" text-anchor="end" font-weight="normal" fill="#111" >80</text>
<line x1="512.8" y1="591" x2="515.3" y2="591" stroke="#111" stroke-width="1.4" />
<line x1="512.8" y1="545" x2="515.3" y2="545" stroke="#111" stroke-width="1.4" />
<line x1="512.8" y1="499" x2="515.3" y2="499" stroke="#111" stroke-width="1.4" />
<line x1="512.8" y1="453" x2="515.3" y2="453" stroke="#111" stroke-width="1.4" />
<line x1="512.8" y1="407" x2="515.3" y2="407" stroke="#111" stroke-width="1.4" />
<line x1="512.8" y1="361" x2="515.3" y2="361" stroke="#111" stroke-width="1.4" />
<line x1="572.9" y1="614" x2="572.9" y2="618.5" stroke="#111" stroke-width="1.6" />
<text x="573.5" y="636" font-size="17.8" text-anchor="middle" font-weight="normal" fill="#111" >0</text>
<line x1="708.5" y1="614" x2="708.5" y2="618.5" stroke="#111" stroke-width="1.6" />
<text x="709.1" y="636" font-size="17.8" text-anchor="middle" font-weight="normal" fill="#111" >100</text>
<line x1="844.1" y1="614" x2="844.1" y2="618.5" stroke="#111" stroke-width="1.6" />
<text x="844.7" y="636" font-size="17.8" text-anchor="middle" font-weight="normal" fill="#111" >200</text>
<line x1="979.7" y1="614" x2="979.7" y2="618.5" stroke="#111" stroke-width="1.6" />
<text x="980.3" y="636" font-size="17.8" text-anchor="middle" font-weight="normal" fill="#111" >300</text>
<line x1="1115.3" y1="614" x2="1115.3" y2="618.5" stroke="#111" stroke-width="1.6" />
<text x="1115.9" y="636" font-size="17.8" text-anchor="middle" font-weight="normal" fill="#111" >400</text>
<line x1="505.1" y1="614" x2="505.1" y2="616.5" stroke="#111" stroke-width="1.4" />
<line x1="640.7" y1="614" x2="640.7" y2="616.5" stroke="#111" stroke-width="1.4" />
<line x1="776.3" y1="614" x2="776.3" y2="616.5" stroke="#111" stroke-width="1.4" />
<line x1="911.9" y1="614" x2="911.9" y2="616.5" stroke="#111" stroke-width="1.4" />
<line x1="1047.5" y1="614" x2="1047.5" y2="616.5" stroke="#111" stroke-width="1.4" />
<line x1="1183.1" y1="614" x2="1183.1" y2="616.5" stroke="#111" stroke-width="1.4" />
<text x="855.8" y="655" font-size="21.5" text-anchor="middle" font-weight="normal" fill="#111" >Time(min)</text>
<text transform="translate(478,471.6) rotate(-90)" font-size="19.9" text-anchor="middle" fill="#111">Temperature(°C)</text>
<text x="453.5" y="349.3" font-size="24" text-anchor="start" font-weight="bold" fill="#000" >(e)</text>
<text x="534.4" y="365.6" font-size="15.5" text-anchor="start" font-weight="normal" fill="#111" >~25°C&#160;&#160;&#160;60%RH</text>
<line x1="1069.2" y1="353.1" x2="1105" y2="353.1" stroke="#5a6ef5" stroke-width="2" />
<line x1="1069.2" y1="371" x2="1105" y2="371" stroke="#f5822a" stroke-width="2" />
<text x="1108.4" y="358.1" font-size="15.3" text-anchor="start" font-weight="normal" fill="#111" >MOF coating</text>
<text x="1108.4" y="375.8" font-size="15.3" text-anchor="start" font-weight="normal" fill="#111" >Baseline</text>
</svg></body></html>
